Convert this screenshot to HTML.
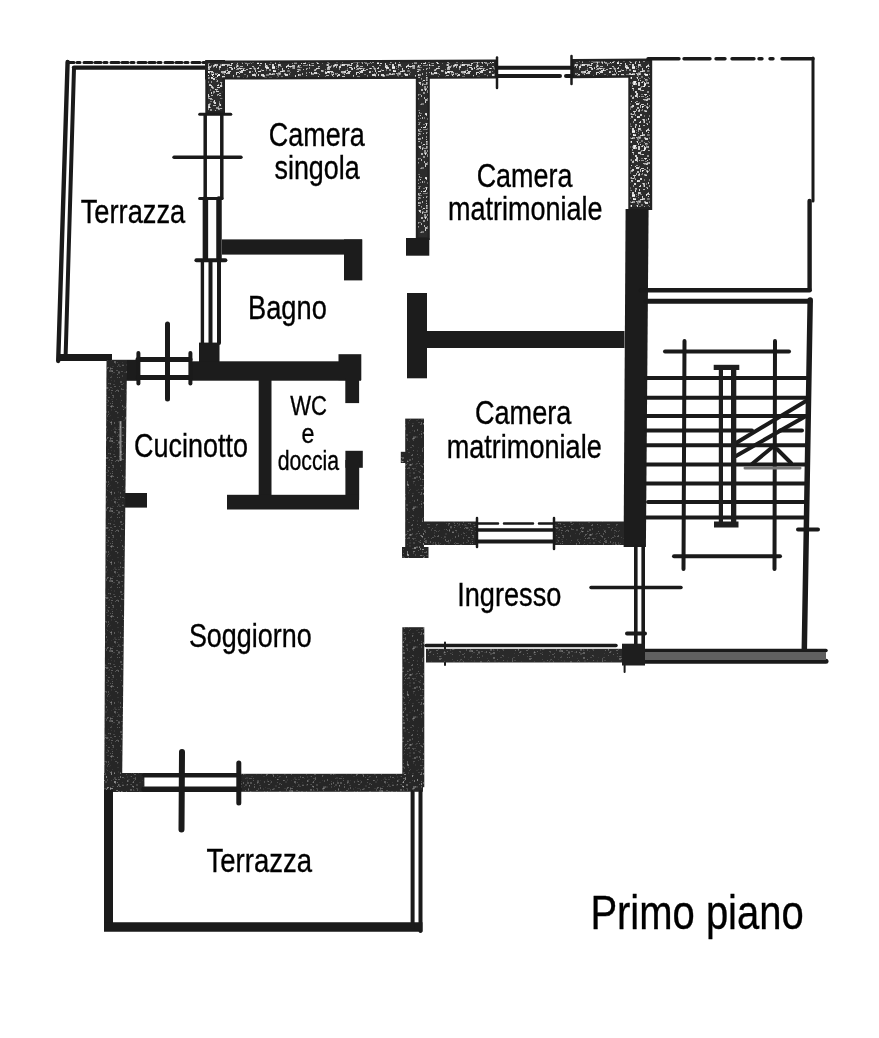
<!DOCTYPE html>
<html><head><meta charset="utf-8"><title>Primo piano</title>
<style>
html,body{margin:0;padding:0;background:#fff;}
body{width:879px;height:1038px;overflow:hidden;}
svg{display:block;filter:grayscale(100%);}
text{font-family:"Liberation Sans",sans-serif;fill:#000;stroke:#000;stroke-width:0.35px;}
</style></head><body>
<svg width="879" height="1038" viewBox="0 0 879 1038">
<rect width="879" height="1038" fill="#fff"/>
<defs><pattern id="speck" width="120" height="64" patternUnits="userSpaceOnUse"><g fill="#fff"><rect x="79" y="32" width="3" height="2" fill-opacity="0.35"/><rect x="107" y="59" width="1" height="1" fill-opacity="0.5"/><rect x="14" y="47" width="2" height="1" fill-opacity="0.8"/><rect x="69" y="13" width="2" height="1" fill-opacity="0.35"/><rect x="93" y="27" width="2" height="2" fill-opacity="0.5"/><rect x="117" y="49" width="1" height="1" fill-opacity="0.5"/><rect x="79" y="56" width="1" height="1" fill-opacity="0.35"/><rect x="111" y="0" width="1" height="1" fill-opacity="0.5"/><rect x="111" y="21" width="1" height="2" fill-opacity="0.5"/><rect x="69" y="26" width="1" height="1" fill-opacity="0.8"/><rect x="38" y="2" width="1" height="2" fill-opacity="0.5"/><rect x="119" y="18" width="1" height="1" fill-opacity="0.65"/><rect x="38" y="0" width="2" height="2" fill-opacity="0.35"/><rect x="39" y="45" width="1" height="2" fill-opacity="0.65"/><rect x="23" y="61" width="2" height="1" fill-opacity="0.35"/><rect x="32" y="2" width="3" height="2" fill-opacity="0.8"/><rect x="2" y="53" width="1" height="2" fill-opacity="0.35"/><rect x="57" y="5" width="3" height="1" fill-opacity="0.5"/><rect x="15" y="31" width="2" height="2" fill-opacity="0.65"/><rect x="114" y="32" width="2" height="1" fill-opacity="0.65"/><rect x="110" y="37" width="1" height="2" fill-opacity="0.35"/><rect x="26" y="43" width="2" height="2" fill-opacity="0.5"/><rect x="43" y="35" width="3" height="1" fill-opacity="0.65"/><rect x="87" y="40" width="1" height="1" fill-opacity="0.35"/><rect x="80" y="19" width="3" height="2" fill-opacity="0.8"/><rect x="20" y="6" width="1" height="2" fill-opacity="0.35"/><rect x="30" y="44" width="1" height="2" fill-opacity="0.8"/><rect x="18" y="7" width="3" height="1" fill-opacity="0.8"/><rect x="42" y="26" width="1" height="1" fill-opacity="0.8"/><rect x="13" y="21" width="2" height="2" fill-opacity="0.5"/><rect x="7" y="53" width="1" height="1" fill-opacity="0.8"/><rect x="118" y="21" width="2" height="2" fill-opacity="0.8"/><rect x="88" y="40" width="2" height="2" fill-opacity="0.65"/><rect x="60" y="51" width="1" height="1" fill-opacity="0.8"/><rect x="105" y="22" width="3" height="2" fill-opacity="0.65"/><rect x="23" y="11" width="2" height="2" fill-opacity="0.65"/><rect x="8" y="45" width="3" height="1" fill-opacity="0.65"/><rect x="46" y="35" width="2" height="2" fill-opacity="0.65"/><rect x="43" y="22" width="2" height="1" fill-opacity="0.8"/><rect x="70" y="32" width="1" height="2" fill-opacity="0.8"/><rect x="36" y="45" width="1" height="2" fill-opacity="0.65"/><rect x="94" y="52" width="1" height="1" fill-opacity="0.8"/><rect x="46" y="42" width="2" height="1" fill-opacity="0.5"/><rect x="25" y="46" width="2" height="2" fill-opacity="0.35"/><rect x="92" y="53" width="1" height="2" fill-opacity="0.65"/><rect x="79" y="34" width="3" height="1" fill-opacity="0.5"/><rect x="20" y="56" width="2" height="1" fill-opacity="0.5"/><rect x="97" y="23" width="3" height="1" fill-opacity="0.8"/><rect x="28" y="21" width="1" height="1" fill-opacity="0.35"/><rect x="40" y="23" width="2" height="1" fill-opacity="0.35"/><rect x="53" y="59" width="1" height="2" fill-opacity="0.35"/><rect x="75" y="26" width="1" height="2" fill-opacity="0.35"/><rect x="44" y="51" width="1" height="2" fill-opacity="0.35"/><rect x="88" y="47" width="1" height="2" fill-opacity="0.35"/><rect x="37" y="43" width="2" height="2" fill-opacity="0.65"/><rect x="104" y="16" width="2" height="2" fill-opacity="0.65"/><rect x="59" y="18" width="1" height="2" fill-opacity="0.8"/><rect x="25" y="17" width="2" height="1" fill-opacity="0.65"/><rect x="105" y="0" width="2" height="1" fill-opacity="0.65"/><rect x="72" y="18" width="1" height="2" fill-opacity="0.8"/><rect x="55" y="28" width="2" height="2" fill-opacity="0.8"/><rect x="90" y="48" width="2" height="1" fill-opacity="0.65"/><rect x="94" y="38" width="2" height="2" fill-opacity="0.8"/><rect x="2" y="40" width="1" height="2" fill-opacity="0.65"/><rect x="18" y="61" width="1" height="1" fill-opacity="0.8"/><rect x="31" y="37" width="1" height="1" fill-opacity="0.8"/><rect x="1" y="61" width="2" height="2" fill-opacity="0.5"/><rect x="119" y="60" width="1" height="1" fill-opacity="0.8"/><rect x="34" y="19" width="3" height="2" fill-opacity="0.65"/><rect x="63" y="60" width="2" height="1" fill-opacity="0.35"/><rect x="97" y="16" width="1" height="2" fill-opacity="0.65"/><rect x="78" y="37" width="3" height="1" fill-opacity="0.8"/><rect x="44" y="46" width="3" height="1" fill-opacity="0.35"/><rect x="0" y="32" width="2" height="2" fill-opacity="0.35"/><rect x="113" y="24" width="1" height="2" fill-opacity="0.8"/><rect x="76" y="61" width="2" height="2" fill-opacity="0.8"/><rect x="87" y="25" width="1" height="2" fill-opacity="0.35"/><rect x="38" y="0" width="3" height="2" fill-opacity="0.65"/><rect x="82" y="60" width="1" height="1" fill-opacity="0.5"/><rect x="61" y="63" width="1" height="1" fill-opacity="0.8"/><rect x="74" y="6" width="1" height="1" fill-opacity="0.65"/><rect x="104" y="10" width="1" height="1" fill-opacity="0.65"/><rect x="92" y="54" width="1" height="2" fill-opacity="0.8"/><rect x="6" y="15" width="1" height="1" fill-opacity="0.35"/><rect x="91" y="17" width="1" height="2" fill-opacity="0.5"/><rect x="23" y="23" width="2" height="1" fill-opacity="0.35"/><rect x="79" y="27" width="1" height="1" fill-opacity="0.8"/><rect x="95" y="9" width="1" height="1" fill-opacity="0.35"/><rect x="95" y="51" width="2" height="1" fill-opacity="0.35"/><rect x="55" y="11" width="1" height="2" fill-opacity="0.8"/><rect x="45" y="47" width="1" height="1" fill-opacity="0.65"/><rect x="19" y="37" width="2" height="1" fill-opacity="0.65"/><rect x="8" y="30" width="1" height="2" fill-opacity="0.5"/><rect x="103" y="30" width="1" height="2" fill-opacity="0.8"/><rect x="22" y="16" width="3" height="1" fill-opacity="0.65"/><rect x="10" y="4" width="1" height="1" fill-opacity="0.8"/><rect x="30" y="49" width="2" height="2" fill-opacity="0.65"/><rect x="13" y="3" width="2" height="2" fill-opacity="0.35"/><rect x="108" y="19" width="2" height="1" fill-opacity="0.35"/><rect x="10" y="62" width="1" height="1" fill-opacity="0.8"/><rect x="45" y="30" width="1" height="2" fill-opacity="0.65"/><rect x="101" y="49" width="2" height="1" fill-opacity="0.65"/><rect x="82" y="37" width="3" height="2" fill-opacity="0.65"/><rect x="66" y="4" width="2" height="1" fill-opacity="0.5"/><rect x="50" y="8" width="1" height="1" fill-opacity="0.35"/><rect x="23" y="25" width="1" height="1" fill-opacity="0.8"/><rect x="113" y="61" width="3" height="2" fill-opacity="0.35"/><rect x="54" y="60" width="1" height="2" fill-opacity="0.65"/><rect x="59" y="59" width="1" height="1" fill-opacity="0.5"/><rect x="83" y="20" width="1" height="2" fill-opacity="0.8"/><rect x="111" y="60" width="1" height="2" fill-opacity="0.35"/><rect x="4" y="61" width="1" height="2" fill-opacity="0.65"/><rect x="40" y="7" width="3" height="1" fill-opacity="0.8"/><rect x="60" y="19" width="1" height="2" fill-opacity="0.65"/><rect x="58" y="30" width="3" height="1" fill-opacity="0.35"/><rect x="25" y="3" width="2" height="1" fill-opacity="0.35"/><rect x="79" y="51" width="3" height="2" fill-opacity="0.65"/><rect x="23" y="59" width="1" height="2" fill-opacity="0.35"/><rect x="93" y="59" width="1" height="1" fill-opacity="0.5"/><rect x="86" y="26" width="1" height="2" fill-opacity="0.65"/><rect x="0" y="59" width="1" height="2" fill-opacity="0.8"/><rect x="21" y="5" width="1" height="2" fill-opacity="0.35"/><rect x="91" y="9" width="1" height="2" fill-opacity="0.35"/><rect x="82" y="6" width="2" height="2" fill-opacity="0.35"/><rect x="6" y="32" width="2" height="2" fill-opacity="0.65"/><rect x="81" y="6" width="1" height="1" fill-opacity="0.5"/><rect x="89" y="51" width="1" height="1" fill-opacity="0.35"/><rect x="118" y="40" width="1" height="1" fill-opacity="0.5"/><rect x="76" y="9" width="3" height="1" fill-opacity="0.35"/><rect x="56" y="45" width="2" height="2" fill-opacity="0.8"/><rect x="66" y="16" width="3" height="1" fill-opacity="0.65"/><rect x="88" y="57" width="1" height="1" fill-opacity="0.5"/><rect x="39" y="61" width="1" height="2" fill-opacity="0.8"/><rect x="40" y="16" width="1" height="1" fill-opacity="0.8"/><rect x="31" y="10" width="2" height="1" fill-opacity="0.65"/><rect x="7" y="63" width="3" height="1" fill-opacity="0.35"/><rect x="90" y="25" width="1" height="2" fill-opacity="0.35"/><rect x="9" y="53" width="1" height="2" fill-opacity="0.35"/><rect x="114" y="36" width="3" height="1" fill-opacity="0.35"/><rect x="56" y="18" width="3" height="1" fill-opacity="0.35"/><rect x="89" y="54" width="1" height="1" fill-opacity="0.8"/><rect x="71" y="16" width="1" height="1" fill-opacity="0.65"/><rect x="21" y="17" width="1" height="2" fill-opacity="0.65"/><rect x="36" y="4" width="1" height="1" fill-opacity="0.35"/><rect x="15" y="6" width="1" height="2" fill-opacity="0.8"/><rect x="110" y="33" width="2" height="1" fill-opacity="0.5"/><rect x="67" y="54" width="1" height="2" fill-opacity="0.5"/><rect x="42" y="45" width="1" height="1" fill-opacity="0.5"/><rect x="93" y="12" width="1" height="1" fill-opacity="0.5"/><rect x="57" y="55" width="2" height="1" fill-opacity="0.65"/><rect x="40" y="57" width="1" height="2" fill-opacity="0.8"/><rect x="68" y="60" width="2" height="1" fill-opacity="0.35"/><rect x="16" y="53" width="3" height="1" fill-opacity="0.5"/><rect x="0" y="4" width="2" height="1" fill-opacity="0.8"/><rect x="90" y="45" width="2" height="2" fill-opacity="0.5"/><rect x="25" y="35" width="1" height="2" fill-opacity="0.65"/><rect x="97" y="30" width="1" height="2" fill-opacity="0.5"/><rect x="104" y="7" width="2" height="2" fill-opacity="0.8"/><rect x="44" y="18" width="1" height="1" fill-opacity="0.8"/><rect x="48" y="4" width="1" height="1" fill-opacity="0.8"/><rect x="12" y="36" width="1" height="2" fill-opacity="0.8"/><rect x="87" y="60" width="2" height="1" fill-opacity="0.5"/><rect x="48" y="1" width="1" height="1" fill-opacity="0.8"/><rect x="2" y="40" width="3" height="1" fill-opacity="0.65"/><rect x="65" y="49" width="2" height="2" fill-opacity="0.8"/><rect x="57" y="7" width="2" height="1" fill-opacity="0.8"/><rect x="46" y="2" width="3" height="1" fill-opacity="0.65"/><rect x="36" y="9" width="1" height="1" fill-opacity="0.65"/><rect x="78" y="52" width="1" height="1" fill-opacity="0.65"/><rect x="118" y="30" width="1" height="1" fill-opacity="0.35"/><rect x="85" y="38" width="1" height="1" fill-opacity="0.8"/><rect x="66" y="11" width="1" height="1" fill-opacity="0.65"/><rect x="100" y="54" width="2" height="1" fill-opacity="0.8"/><rect x="48" y="22" width="3" height="1" fill-opacity="0.65"/><rect x="49" y="41" width="1" height="2" fill-opacity="0.5"/><rect x="113" y="12" width="1" height="2" fill-opacity="0.65"/><rect x="102" y="34" width="2" height="1" fill-opacity="0.5"/><rect x="9" y="52" width="1" height="1" fill-opacity="0.35"/><rect x="72" y="52" width="2" height="1" fill-opacity="0.8"/><rect x="61" y="31" width="1" height="2" fill-opacity="0.65"/><rect x="10" y="42" width="1" height="2" fill-opacity="0.35"/><rect x="19" y="14" width="1" height="1" fill-opacity="0.8"/><rect x="24" y="41" width="2" height="1" fill-opacity="0.65"/><rect x="93" y="9" width="1" height="2" fill-opacity="0.5"/><rect x="106" y="9" width="1" height="1" fill-opacity="0.8"/><rect x="82" y="49" width="1" height="2" fill-opacity="0.35"/><rect x="0" y="24" width="3" height="1" fill-opacity="0.35"/><rect x="11" y="42" width="1" height="2" fill-opacity="0.35"/><rect x="73" y="56" width="3" height="2" fill-opacity="0.5"/><rect x="91" y="13" width="1" height="1" fill-opacity="0.35"/><rect x="25" y="26" width="1" height="2" fill-opacity="0.5"/><rect x="58" y="10" width="1" height="2" fill-opacity="0.8"/><rect x="48" y="0" width="1" height="2" fill-opacity="0.5"/><rect x="87" y="0" width="2" height="2" fill-opacity="0.65"/><rect x="95" y="9" width="2" height="2" fill-opacity="0.35"/><rect x="14" y="61" width="1" height="1" fill-opacity="0.65"/><rect x="48" y="18" width="1" height="2" fill-opacity="0.35"/><rect x="73" y="14" width="1" height="2" fill-opacity="0.65"/><rect x="108" y="8" width="2" height="2" fill-opacity="0.35"/><rect x="28" y="53" width="1" height="2" fill-opacity="0.35"/><rect x="18" y="34" width="1" height="2" fill-opacity="0.8"/><rect x="23" y="49" width="1" height="1" fill-opacity="0.8"/><rect x="45" y="16" width="1" height="1" fill-opacity="0.5"/><rect x="46" y="2" width="1" height="2" fill-opacity="0.8"/><rect x="49" y="10" width="1" height="1" fill-opacity="0.5"/><rect x="102" y="56" width="1" height="2" fill-opacity="0.35"/><rect x="35" y="60" width="2" height="1" fill-opacity="0.35"/><rect x="20" y="50" width="2" height="2" fill-opacity="0.35"/><rect x="27" y="3" width="2" height="2" fill-opacity="0.8"/><rect x="117" y="48" width="1" height="1" fill-opacity="0.65"/><rect x="18" y="38" width="1" height="2" fill-opacity="0.35"/><rect x="47" y="27" width="2" height="2" fill-opacity="0.5"/><rect x="34" y="17" width="2" height="2" fill-opacity="0.65"/><rect x="0" y="15" width="1" height="2" fill-opacity="0.35"/><rect x="9" y="48" width="1" height="2" fill-opacity="0.5"/><rect x="25" y="2" width="3" height="2" fill-opacity="0.65"/><rect x="76" y="58" width="1" height="2" fill-opacity="0.5"/><rect x="9" y="46" width="2" height="1" fill-opacity="0.35"/><rect x="23" y="54" width="1" height="2" fill-opacity="0.5"/><rect x="96" y="47" width="1" height="1" fill-opacity="0.5"/><rect x="37" y="11" width="1" height="1" fill-opacity="0.35"/><rect x="82" y="51" width="1" height="2" fill-opacity="0.65"/><rect x="116" y="61" width="2" height="2" fill-opacity="0.5"/><rect x="72" y="17" width="1" height="1" fill-opacity="0.35"/><rect x="93" y="49" width="1" height="1" fill-opacity="0.8"/><rect x="85" y="7" width="1" height="1" fill-opacity="0.5"/><rect x="53" y="29" width="2" height="1" fill-opacity="0.65"/><rect x="7" y="30" width="1" height="2" fill-opacity="0.65"/><rect x="99" y="2" width="2" height="2" fill-opacity="0.8"/><rect x="57" y="13" width="3" height="1" fill-opacity="0.65"/><rect x="72" y="35" width="3" height="2" fill-opacity="0.8"/><rect x="38" y="21" width="2" height="1" fill-opacity="0.8"/><rect x="7" y="27" width="2" height="2" fill-opacity="0.35"/><rect x="118" y="38" width="2" height="2" fill-opacity="0.8"/><rect x="17" y="58" width="1" height="1" fill-opacity="0.8"/><rect x="0" y="26" width="2" height="2" fill-opacity="0.35"/><rect x="7" y="11" width="1" height="2" fill-opacity="0.5"/><rect x="47" y="43" width="1" height="2" fill-opacity="0.8"/><rect x="100" y="18" width="3" height="1" fill-opacity="0.65"/><rect x="32" y="3" width="3" height="2" fill-opacity="0.8"/><rect x="21" y="31" width="3" height="2" fill-opacity="0.8"/><rect x="117" y="22" width="2" height="1" fill-opacity="0.35"/><rect x="115" y="45" width="2" height="1" fill-opacity="0.35"/><rect x="58" y="5" width="3" height="2" fill-opacity="0.35"/><rect x="3" y="52" width="1" height="2" fill-opacity="0.8"/><rect x="78" y="28" width="2" height="1" fill-opacity="0.35"/><rect x="92" y="11" width="1" height="1" fill-opacity="0.8"/><rect x="38" y="8" width="3" height="2" fill-opacity="0.35"/><rect x="51" y="39" width="1" height="2" fill-opacity="0.65"/><rect x="59" y="48" width="1" height="1" fill-opacity="0.65"/><rect x="40" y="26" width="2" height="1" fill-opacity="0.5"/><rect x="45" y="10" width="3" height="2" fill-opacity="0.8"/><rect x="79" y="50" width="1" height="1" fill-opacity="0.5"/><rect x="117" y="62" width="1" height="2" fill-opacity="0.65"/><rect x="116" y="2" width="1" height="2" fill-opacity="0.65"/><rect x="72" y="63" width="2" height="1" fill-opacity="0.5"/><rect x="84" y="21" width="2" height="2" fill-opacity="0.65"/><rect x="37" y="13" width="1" height="2" fill-opacity="0.8"/><rect x="45" y="33" width="2" height="1" fill-opacity="0.35"/><rect x="88" y="14" width="1" height="1" fill-opacity="0.35"/><rect x="111" y="36" width="2" height="1" fill-opacity="0.35"/><rect x="99" y="49" width="1" height="2" fill-opacity="0.65"/><rect x="12" y="52" width="1" height="1" fill-opacity="0.65"/><rect x="8" y="37" width="3" height="2" fill-opacity="0.8"/><rect x="111" y="52" width="1" height="1" fill-opacity="0.65"/><rect x="8" y="23" width="1" height="1" fill-opacity="0.8"/><rect x="13" y="59" width="2" height="1" fill-opacity="0.5"/><rect x="53" y="3" width="2" height="2" fill-opacity="0.35"/><rect x="87" y="41" width="1" height="1" fill-opacity="0.8"/><rect x="48" y="13" width="1" height="1" fill-opacity="0.35"/><rect x="78" y="12" width="1" height="2" fill-opacity="0.8"/><rect x="14" y="34" width="1" height="2" fill-opacity="0.8"/><rect x="5" y="26" width="2" height="1" fill-opacity="0.8"/><rect x="84" y="23" width="1" height="2" fill-opacity="0.35"/><rect x="17" y="39" width="1" height="2" fill-opacity="0.65"/><rect x="56" y="32" width="1" height="1" fill-opacity="0.65"/><rect x="58" y="60" width="2" height="1" fill-opacity="0.5"/><rect x="76" y="25" width="2" height="1" fill-opacity="0.8"/><rect x="29" y="17" width="1" height="1" fill-opacity="0.35"/><rect x="92" y="57" width="1" height="2" fill-opacity="0.5"/><rect x="102" y="61" width="1" height="2" fill-opacity="0.65"/><rect x="80" y="45" width="3" height="1" fill-opacity="0.35"/><rect x="26" y="3" width="1" height="2" fill-opacity="0.8"/><rect x="111" y="36" width="2" height="2" fill-opacity="0.35"/><rect x="37" y="53" width="1" height="1" fill-opacity="0.65"/><rect x="83" y="24" width="3" height="1" fill-opacity="0.35"/><rect x="62" y="20" width="1" height="2" fill-opacity="0.65"/><rect x="91" y="1" width="1" height="2" fill-opacity="0.35"/><rect x="68" y="61" width="2" height="2" fill-opacity="0.35"/><rect x="29" y="0" width="2" height="1" fill-opacity="0.5"/><rect x="21" y="21" width="2" height="1" fill-opacity="0.8"/><rect x="83" y="13" width="2" height="2" fill-opacity="0.5"/><rect x="82" y="35" width="1" height="1" fill-opacity="0.5"/><rect x="74" y="8" width="3" height="2" fill-opacity="0.8"/><rect x="74" y="39" width="1" height="1" fill-opacity="0.65"/><rect x="71" y="56" width="3" height="1" fill-opacity="0.65"/><rect x="67" y="0" width="1" height="2" fill-opacity="0.35"/><rect x="59" y="1" width="1" height="1" fill-opacity="0.35"/><rect x="22" y="58" width="2" height="2" fill-opacity="0.8"/><rect x="37" y="9" width="1" height="2" fill-opacity="0.5"/><rect x="2" y="56" width="2" height="1" fill-opacity="0.35"/><rect x="89" y="43" width="1" height="1" fill-opacity="0.65"/><rect x="113" y="11" width="1" height="1" fill-opacity="0.8"/><rect x="38" y="24" width="3" height="2" fill-opacity="0.8"/><rect x="21" y="14" width="2" height="1" fill-opacity="0.5"/><rect x="16" y="51" width="2" height="1" fill-opacity="0.8"/><rect x="3" y="35" width="2" height="1" fill-opacity="0.65"/><rect x="97" y="11" width="1" height="2" fill-opacity="0.8"/><rect x="105" y="56" width="3" height="1" fill-opacity="0.5"/><rect x="41" y="32" width="3" height="1" fill-opacity="0.5"/><rect x="105" y="20" width="1" height="1" fill-opacity="0.8"/><rect x="46" y="18" width="3" height="2" fill-opacity="0.5"/><rect x="0" y="19" width="3" height="2" fill-opacity="0.35"/><rect x="95" y="0" width="3" height="2" fill-opacity="0.65"/><rect x="92" y="10" width="2" height="1" fill-opacity="0.65"/><rect x="0" y="7" width="3" height="2" fill-opacity="0.8"/><rect x="33" y="57" width="1" height="2" fill-opacity="0.5"/><rect x="50" y="54" width="2" height="2" fill-opacity="0.35"/><rect x="29" y="61" width="1" height="1" fill-opacity="0.35"/><rect x="99" y="61" width="1" height="1" fill-opacity="0.65"/><rect x="12" y="10" width="3" height="2" fill-opacity="0.8"/><rect x="22" y="41" width="1" height="1" fill-opacity="0.65"/><rect x="80" y="15" width="2" height="1" fill-opacity="0.35"/><rect x="5" y="62" width="2" height="2" fill-opacity="0.5"/><rect x="56" y="38" width="1" height="2" fill-opacity="0.65"/><rect x="78" y="57" width="2" height="1" fill-opacity="0.5"/><rect x="112" y="37" width="1" height="2" fill-opacity="0.35"/><rect x="119" y="48" width="1" height="2" fill-opacity="0.35"/><rect x="20" y="44" width="3" height="2" fill-opacity="0.35"/><rect x="43" y="26" width="1" height="1" fill-opacity="0.8"/><rect x="41" y="12" width="2" height="2" fill-opacity="0.35"/><rect x="87" y="57" width="3" height="1" fill-opacity="0.5"/><rect x="113" y="36" width="1" height="2" fill-opacity="0.8"/><rect x="105" y="44" width="2" height="1" fill-opacity="0.8"/><rect x="52" y="25" width="2" height="2" fill-opacity="0.8"/><rect x="15" y="16" width="1" height="2" fill-opacity="0.65"/><rect x="112" y="4" width="1" height="2" fill-opacity="0.8"/><rect x="77" y="13" width="1" height="1" fill-opacity="0.8"/><rect x="75" y="6" width="1" height="1" fill-opacity="0.65"/><rect x="80" y="37" width="1" height="2" fill-opacity="0.5"/><rect x="4" y="55" width="2" height="2" fill-opacity="0.5"/><rect x="88" y="42" width="2" height="2" fill-opacity="0.8"/><rect x="79" y="59" width="1" height="1" fill-opacity="0.65"/><rect x="60" y="40" width="2" height="1" fill-opacity="0.35"/><rect x="56" y="34" width="1" height="2" fill-opacity="0.35"/><rect x="49" y="51" width="2" height="2" fill-opacity="0.5"/><rect x="18" y="58" width="1" height="2" fill-opacity="0.5"/><rect x="22" y="52" width="1" height="2" fill-opacity="0.65"/><rect x="32" y="24" width="2" height="1" fill-opacity="0.8"/><rect x="116" y="58" width="1" height="2" fill-opacity="0.8"/><rect x="4" y="24" width="1" height="2" fill-opacity="0.5"/><rect x="88" y="63" width="2" height="1" fill-opacity="0.35"/><rect x="99" y="39" width="1" height="2" fill-opacity="0.65"/><rect x="78" y="44" width="1" height="1" fill-opacity="0.35"/><rect x="25" y="63" width="1" height="1" fill-opacity="0.8"/><rect x="67" y="26" width="1" height="1" fill-opacity="0.65"/><rect x="100" y="40" width="1" height="2" fill-opacity="0.8"/><rect x="2" y="4" width="3" height="1" fill-opacity="0.5"/><rect x="13" y="39" width="1" height="1" fill-opacity="0.35"/><rect x="81" y="14" width="3" height="2" fill-opacity="0.65"/><rect x="32" y="52" width="1" height="2" fill-opacity="0.65"/><rect x="8" y="50" width="1" height="1" fill-opacity="0.8"/><rect x="107" y="1" width="1" height="2" fill-opacity="0.5"/><rect x="108" y="7" width="3" height="1" fill-opacity="0.8"/><rect x="85" y="12" width="1" height="2" fill-opacity="0.35"/><rect x="88" y="33" width="1" height="2" fill-opacity="0.5"/><rect x="15" y="10" width="1" height="2" fill-opacity="0.65"/><rect x="30" y="62" width="1" height="1" fill-opacity="0.65"/><rect x="66" y="50" width="1" height="2" fill-opacity="0.65"/><rect x="81" y="27" width="2" height="2" fill-opacity="0.8"/><rect x="19" y="1" width="2" height="1" fill-opacity="0.5"/><rect x="116" y="0" width="2" height="2" fill-opacity="0.35"/><rect x="29" y="30" width="1" height="2" fill-opacity="0.5"/><rect x="36" y="17" width="1" height="1" fill-opacity="0.35"/><rect x="77" y="62" width="1" height="2" fill-opacity="0.65"/><rect x="88" y="32" width="1" height="1" fill-opacity="0.8"/><rect x="102" y="12" width="3" height="2" fill-opacity="0.8"/><rect x="66" y="1" width="1" height="1" fill-opacity="0.5"/><rect x="77" y="20" width="3" height="2" fill-opacity="0.8"/><rect x="35" y="60" width="2" height="2" fill-opacity="0.5"/><rect x="24" y="57" width="2" height="1" fill-opacity="0.35"/><rect x="78" y="2" width="2" height="1" fill-opacity="0.65"/><rect x="69" y="3" width="1" height="2" fill-opacity="0.5"/><rect x="35" y="51" width="1" height="1" fill-opacity="0.65"/><rect x="39" y="14" width="2" height="1" fill-opacity="0.35"/><rect x="77" y="29" width="1" height="2" fill-opacity="0.8"/><rect x="103" y="32" width="1" height="2" fill-opacity="0.8"/><rect x="62" y="19" width="2" height="2" fill-opacity="0.35"/><rect x="98" y="50" width="2" height="1" fill-opacity="0.5"/><rect x="64" y="33" width="1" height="1" fill-opacity="0.65"/><rect x="55" y="20" width="2" height="1" fill-opacity="0.35"/><rect x="36" y="29" width="2" height="2" fill-opacity="0.8"/><rect x="67" y="22" width="2" height="2" fill-opacity="0.8"/><rect x="56" y="30" width="1" height="2" fill-opacity="0.5"/><rect x="18" y="10" width="1" height="2" fill-opacity="0.8"/><rect x="69" y="1" width="3" height="1" fill-opacity="0.35"/><rect x="62" y="17" width="1" height="1" fill-opacity="0.35"/><rect x="107" y="54" width="2" height="1" fill-opacity="0.35"/><rect x="96" y="2" width="1" height="2" fill-opacity="0.65"/><rect x="91" y="28" width="1" height="2" fill-opacity="0.8"/><rect x="108" y="41" width="1" height="2" fill-opacity="0.35"/><rect x="63" y="5" width="1" height="1" fill-opacity="0.65"/><rect x="35" y="38" width="1" height="1" fill-opacity="0.8"/><rect x="85" y="8" width="2" height="2" fill-opacity="0.8"/><rect x="29" y="42" width="2" height="2" fill-opacity="0.5"/><rect x="46" y="55" width="1" height="2" fill-opacity="0.35"/><rect x="101" y="19" width="1" height="2" fill-opacity="0.65"/><rect x="98" y="30" width="1" height="1" fill-opacity="0.65"/><rect x="13" y="61" width="1" height="1" fill-opacity="0.65"/><rect x="5" y="18" width="3" height="1" fill-opacity="0.35"/><rect x="40" y="41" width="1" height="1" fill-opacity="0.8"/><rect x="114" y="54" width="2" height="1" fill-opacity="0.35"/><rect x="33" y="50" width="3" height="1" fill-opacity="0.35"/><rect x="0" y="40" width="1" height="2" fill-opacity="0.5"/><rect x="116" y="19" width="1" height="2" fill-opacity="0.65"/><rect x="10" y="55" width="2" height="1" fill-opacity="0.8"/><rect x="61" y="39" width="3" height="2" fill-opacity="0.35"/><rect x="39" y="9" width="1" height="2" fill-opacity="0.35"/><rect x="13" y="30" width="3" height="2" fill-opacity="0.5"/><rect x="86" y="60" width="2" height="2" fill-opacity="0.5"/><rect x="18" y="3" width="1" height="1" fill-opacity="0.8"/><rect x="52" y="1" width="3" height="2" fill-opacity="0.65"/><rect x="71" y="29" width="1" height="2" fill-opacity="0.65"/><rect x="26" y="29" width="2" height="2" fill-opacity="0.65"/><rect x="8" y="34" width="1" height="2" fill-opacity="0.8"/><rect x="5" y="59" width="1" height="1" fill-opacity="0.35"/><rect x="29" y="54" width="2" height="1" fill-opacity="0.5"/><rect x="44" y="30" width="3" height="1" fill-opacity="0.8"/><rect x="23" y="28" width="2" height="2" fill-opacity="0.5"/><rect x="56" y="20" width="1" height="2" fill-opacity="0.35"/><rect x="113" y="59" width="1" height="1" fill-opacity="0.8"/><rect x="41" y="46" width="2" height="1" fill-opacity="0.35"/><rect x="65" y="35" width="3" height="2" fill-opacity="0.65"/><rect x="87" y="4" width="3" height="2" fill-opacity="0.65"/><rect x="44" y="21" width="1" height="2" fill-opacity="0.8"/><rect x="47" y="34" width="2" height="2" fill-opacity="0.5"/><rect x="76" y="23" width="3" height="1" fill-opacity="0.65"/><rect x="116" y="54" width="2" height="2" fill-opacity="0.35"/><rect x="54" y="24" width="1" height="1" fill-opacity="0.8"/><rect x="14" y="4" width="2" height="2" fill-opacity="0.5"/><rect x="44" y="20" width="2" height="2" fill-opacity="0.65"/><rect x="107" y="39" width="2" height="2" fill-opacity="0.5"/><rect x="29" y="5" width="2" height="2" fill-opacity="0.5"/><rect x="11" y="63" width="1" height="1" fill-opacity="0.35"/><rect x="38" y="18" width="2" height="2" fill-opacity="0.8"/><rect x="97" y="21" width="2" height="1" fill-opacity="0.8"/><rect x="56" y="34" width="3" height="1" fill-opacity="0.5"/><rect x="13" y="53" width="1" height="1" fill-opacity="0.65"/><rect x="89" y="32" width="1" height="1" fill-opacity="0.65"/><rect x="55" y="14" width="3" height="1" fill-opacity="0.5"/><rect x="78" y="50" width="3" height="1" fill-opacity="0.5"/><rect x="94" y="58" width="1" height="2" fill-opacity="0.65"/><rect x="42" y="4" width="1" height="2" fill-opacity="0.8"/><rect x="76" y="52" width="3" height="1" fill-opacity="0.65"/><rect x="17" y="63" width="2" height="1" fill-opacity="0.8"/><rect x="76" y="47" width="1" height="2" fill-opacity="0.35"/><rect x="108" y="24" width="2" height="1" fill-opacity="0.8"/><rect x="16" y="8" width="1" height="2" fill-opacity="0.5"/><rect x="80" y="29" width="1" height="2" fill-opacity="0.35"/><rect x="16" y="57" width="1" height="1" fill-opacity="0.8"/><rect x="89" y="9" width="1" height="1" fill-opacity="0.35"/><rect x="75" y="26" width="2" height="1" fill-opacity="0.8"/><rect x="64" y="63" width="1" height="1" fill-opacity="0.5"/><rect x="17" y="62" width="2" height="2" fill-opacity="0.8"/><rect x="2" y="17" width="3" height="2" fill-opacity="0.65"/><rect x="17" y="4" width="2" height="1" fill-opacity="0.8"/><rect x="21" y="45" width="2" height="2" fill-opacity="0.8"/><rect x="62" y="53" width="1" height="2" fill-opacity="0.65"/><rect x="60" y="54" width="1" height="1" fill-opacity="0.35"/><rect x="24" y="57" width="1" height="2" fill-opacity="0.65"/><rect x="85" y="52" width="1" height="2" fill-opacity="0.65"/><rect x="49" y="9" width="1" height="1" fill-opacity="0.35"/><rect x="9" y="18" width="1" height="1" fill-opacity="0.8"/><rect x="55" y="44" width="2" height="1" fill-opacity="0.65"/><rect x="24" y="24" width="1" height="2" fill-opacity="0.65"/><rect x="4" y="52" width="2" height="2" fill-opacity="0.5"/><rect x="111" y="41" width="1" height="1" fill-opacity="0.35"/><rect x="25" y="56" width="3" height="1" fill-opacity="0.35"/><rect x="107" y="0" width="3" height="2" fill-opacity="0.65"/><rect x="63" y="63" width="2" height="1" fill-opacity="0.8"/><rect x="71" y="9" width="3" height="2" fill-opacity="0.5"/><rect x="74" y="5" width="2" height="1" fill-opacity="0.35"/><rect x="72" y="41" width="1" height="1" fill-opacity="0.8"/><rect x="110" y="1" width="2" height="1" fill-opacity="0.8"/><rect x="109" y="3" width="3" height="1" fill-opacity="0.8"/><rect x="44" y="14" width="1" height="1" fill-opacity="0.5"/><rect x="46" y="59" width="2" height="1" fill-opacity="0.5"/><rect x="24" y="22" width="1" height="1" fill-opacity="0.8"/><rect x="80" y="60" width="1" height="2" fill-opacity="0.8"/><rect x="26" y="1" width="1" height="1" fill-opacity="0.8"/><rect x="119" y="19" width="1" height="2" fill-opacity="0.65"/><rect x="22" y="43" width="2" height="1" fill-opacity="0.65"/><rect x="33" y="25" width="1" height="2" fill-opacity="0.5"/><rect x="97" y="55" width="3" height="1" fill-opacity="0.8"/><rect x="31" y="42" width="1" height="1" fill-opacity="0.65"/><rect x="32" y="18" width="1" height="2" fill-opacity="0.35"/><rect x="34" y="7" width="2" height="1" fill-opacity="0.8"/><rect x="99" y="29" width="2" height="1" fill-opacity="0.5"/><rect x="33" y="47" width="3" height="1" fill-opacity="0.8"/><rect x="3" y="5" width="1" height="2" fill-opacity="0.8"/><rect x="29" y="47" width="1" height="1" fill-opacity="0.8"/><rect x="93" y="41" width="3" height="1" fill-opacity="0.65"/><rect x="101" y="58" width="3" height="2" fill-opacity="0.8"/><rect x="98" y="10" width="2" height="2" fill-opacity="0.8"/><rect x="105" y="27" width="2" height="2" fill-opacity="0.35"/><rect x="116" y="9" width="1" height="2" fill-opacity="0.8"/><rect x="105" y="47" width="2" height="2" fill-opacity="0.5"/><rect x="12" y="32" width="1" height="2" fill-opacity="0.5"/><rect x="21" y="47" width="2" height="1" fill-opacity="0.5"/><rect x="117" y="33" width="3" height="2" fill-opacity="0.8"/><rect x="15" y="48" width="1" height="2" fill-opacity="0.8"/><rect x="55" y="31" width="3" height="1" fill-opacity="0.5"/><rect x="34" y="48" width="1" height="2" fill-opacity="0.65"/><rect x="53" y="49" width="2" height="1" fill-opacity="0.65"/><rect x="88" y="44" width="1" height="2" fill-opacity="0.5"/><rect x="85" y="50" width="1" height="2" fill-opacity="0.35"/><rect x="71" y="37" width="1" height="1" fill-opacity="0.8"/><rect x="65" y="25" width="1" height="2" fill-opacity="0.8"/><rect x="107" y="8" width="3" height="2" fill-opacity="0.65"/><rect x="20" y="30" width="3" height="2" fill-opacity="0.35"/><rect x="38" y="20" width="2" height="1" fill-opacity="0.8"/><rect x="98" y="44" width="2" height="2" fill-opacity="0.5"/><rect x="71" y="33" width="1" height="1" fill-opacity="0.5"/><rect x="118" y="18" width="2" height="1" fill-opacity="0.65"/><rect x="54" y="62" width="3" height="2" fill-opacity="0.5"/><rect x="22" y="52" width="2" height="1" fill-opacity="0.5"/><rect x="22" y="47" width="2" height="1" fill-opacity="0.35"/><rect x="99" y="37" width="1" height="2" fill-opacity="0.35"/><rect x="16" y="56" width="1" height="1" fill-opacity="0.35"/><rect x="91" y="58" width="1" height="1" fill-opacity="0.35"/><rect x="69" y="27" width="3" height="2" fill-opacity="0.5"/><rect x="80" y="45" width="2" height="2" fill-opacity="0.35"/><rect x="74" y="18" width="3" height="2" fill-opacity="0.35"/><rect x="10" y="33" width="2" height="2" fill-opacity="0.5"/><rect x="29" y="60" width="2" height="2" fill-opacity="0.35"/><rect x="50" y="59" width="1" height="2" fill-opacity="0.5"/><rect x="60" y="1" width="1" height="1" fill-opacity="0.65"/><rect x="44" y="9" width="2" height="2" fill-opacity="0.5"/><rect x="59" y="10" width="2" height="2" fill-opacity="0.5"/><rect x="42" y="55" width="2" height="1" fill-opacity="0.5"/><rect x="44" y="41" width="2" height="1" fill-opacity="0.5"/><rect x="62" y="9" width="1" height="2" fill-opacity="0.65"/><rect x="18" y="33" width="3" height="2" fill-opacity="0.65"/><rect x="46" y="47" width="1" height="1" fill-opacity="0.8"/><rect x="17" y="49" width="2" height="2" fill-opacity="0.5"/><rect x="1" y="42" width="1" height="1" fill-opacity="0.5"/><rect x="111" y="43" width="2" height="1" fill-opacity="0.65"/><rect x="112" y="50" width="1" height="1" fill-opacity="0.65"/><rect x="63" y="16" width="2" height="1" fill-opacity="0.8"/><rect x="86" y="15" width="1" height="2" fill-opacity="0.8"/><rect x="117" y="4" width="3" height="1" fill-opacity="0.65"/><rect x="105" y="43" width="1" height="2" fill-opacity="0.5"/><rect x="88" y="2" width="3" height="2" fill-opacity="0.65"/><rect x="107" y="19" width="2" height="2" fill-opacity="0.8"/><rect x="111" y="4" width="1" height="2" fill-opacity="0.65"/><rect x="113" y="56" width="1" height="1" fill-opacity="0.5"/><rect x="74" y="13" width="1" height="1" fill-opacity="0.35"/><rect x="43" y="55" width="2" height="2" fill-opacity="0.65"/><rect x="50" y="52" width="1" height="2" fill-opacity="0.35"/><rect x="21" y="25" width="2" height="2" fill-opacity="0.35"/><rect x="96" y="26" width="1" height="1" fill-opacity="0.5"/><rect x="33" y="17" width="3" height="2" fill-opacity="0.8"/><rect x="93" y="37" width="1" height="2" fill-opacity="0.5"/><rect x="16" y="37" width="1" height="2" fill-opacity="0.5"/><rect x="73" y="25" width="3" height="2" fill-opacity="0.5"/><rect x="30" y="62" width="2" height="1" fill-opacity="0.5"/><rect x="28" y="18" width="3" height="2" fill-opacity="0.5"/><rect x="114" y="41" width="2" height="2" fill-opacity="0.5"/><rect x="4" y="23" width="2" height="2" fill-opacity="0.8"/><rect x="78" y="34" width="2" height="2" fill-opacity="0.35"/><rect x="100" y="1" width="3" height="1" fill-opacity="0.5"/><rect x="25" y="24" width="2" height="2" fill-opacity="0.5"/><rect x="20" y="29" width="1" height="2" fill-opacity="0.5"/><rect x="51" y="59" width="1" height="2" fill-opacity="0.5"/><rect x="15" y="20" width="3" height="2" fill-opacity="0.8"/><rect x="20" y="53" width="3" height="1" fill-opacity="0.35"/><rect x="58" y="34" width="1" height="2" fill-opacity="0.35"/><rect x="97" y="9" width="1" height="1" fill-opacity="0.5"/><rect x="81" y="54" width="1" height="2" fill-opacity="0.8"/><rect x="99" y="59" width="1" height="1" fill-opacity="0.8"/><rect x="82" y="43" width="1" height="2" fill-opacity="0.65"/><rect x="89" y="39" width="2" height="2" fill-opacity="0.35"/><rect x="7" y="44" width="1" height="2" fill-opacity="0.35"/><rect x="14" y="18" width="2" height="2" fill-opacity="0.8"/><rect x="118" y="37" width="1" height="1" fill-opacity="0.35"/><rect x="55" y="24" width="1" height="1" fill-opacity="0.65"/><rect x="96" y="15" width="1" height="1" fill-opacity="0.35"/><rect x="88" y="7" width="1" height="2" fill-opacity="0.8"/><rect x="38" y="15" width="1" height="2" fill-opacity="0.65"/><rect x="7" y="0" width="1" height="2" fill-opacity="0.65"/><rect x="91" y="22" width="2" height="2" fill-opacity="0.65"/><rect x="45" y="15" width="2" height="1" fill-opacity="0.65"/><rect x="20" y="54" width="1" height="1" fill-opacity="0.8"/><rect x="32" y="41" width="2" height="2" fill-opacity="0.8"/><rect x="32" y="33" width="2" height="2" fill-opacity="0.65"/><rect x="64" y="24" width="3" height="2" fill-opacity="0.5"/><rect x="103" y="49" width="1" height="2" fill-opacity="0.35"/><rect x="38" y="46" width="2" height="2" fill-opacity="0.65"/><rect x="81" y="58" width="2" height="2" fill-opacity="0.65"/><rect x="68" y="54" width="2" height="2" fill-opacity="0.65"/><rect x="113" y="25" width="3" height="2" fill-opacity="0.8"/><rect x="47" y="1" width="1" height="1" fill-opacity="0.65"/><rect x="58" y="51" width="1" height="2" fill-opacity="0.5"/><rect x="14" y="19" width="1" height="2" fill-opacity="0.5"/><rect x="41" y="40" width="3" height="1" fill-opacity="0.8"/><rect x="116" y="51" width="1" height="1" fill-opacity="0.65"/><rect x="76" y="4" width="2" height="1" fill-opacity="0.8"/><rect x="110" y="53" width="1" height="1" fill-opacity="0.8"/><rect x="119" y="3" width="1" height="2" fill-opacity="0.35"/><rect x="95" y="47" width="3" height="2" fill-opacity="0.5"/><rect x="12" y="60" width="1" height="1" fill-opacity="0.8"/><rect x="81" y="6" width="2" height="2" fill-opacity="0.5"/><rect x="4" y="21" width="2" height="1" fill-opacity="0.8"/><rect x="56" y="15" width="1" height="1" fill-opacity="0.5"/><rect x="74" y="32" width="1" height="1" fill-opacity="0.5"/><rect x="48" y="54" width="1" height="2" fill-opacity="0.8"/><rect x="96" y="27" width="3" height="1" fill-opacity="0.8"/><rect x="87" y="7" width="3" height="2" fill-opacity="0.8"/><rect x="10" y="24" width="2" height="2" fill-opacity="0.8"/><rect x="33" y="32" width="1" height="2" fill-opacity="0.35"/><rect x="17" y="14" width="2" height="2" fill-opacity="0.35"/><rect x="19" y="14" width="2" height="1" fill-opacity="0.35"/><rect x="52" y="3" width="3" height="2" fill-opacity="0.35"/><rect x="43" y="57" width="1" height="2" fill-opacity="0.35"/><rect x="17" y="36" width="1" height="2" fill-opacity="0.65"/><rect x="12" y="47" width="1" height="2" fill-opacity="0.65"/><rect x="115" y="23" width="2" height="1" fill-opacity="0.8"/><rect x="89" y="21" width="3" height="1" fill-opacity="0.8"/><rect x="110" y="49" width="1" height="2" fill-opacity="0.65"/><rect x="9" y="4" width="3" height="1" fill-opacity="0.65"/><rect x="44" y="46" width="2" height="2" fill-opacity="0.35"/><rect x="16" y="24" width="1" height="2" fill-opacity="0.5"/><rect x="117" y="12" width="3" height="2" fill-opacity="0.5"/><rect x="8" y="43" width="1" height="1" fill-opacity="0.35"/><rect x="114" y="47" width="1" height="1" fill-opacity="0.5"/><rect x="100" y="21" width="3" height="2" fill-opacity="0.8"/><rect x="28" y="26" width="1" height="1" fill-opacity="0.8"/><rect x="32" y="9" width="3" height="2" fill-opacity="0.5"/><rect x="75" y="5" width="2" height="1" fill-opacity="0.5"/><rect x="91" y="8" width="3" height="1" fill-opacity="0.65"/><rect x="118" y="36" width="2" height="1" fill-opacity="0.8"/><rect x="88" y="30" width="1" height="2" fill-opacity="0.8"/><rect x="33" y="19" width="2" height="2" fill-opacity="0.8"/><rect x="89" y="43" width="2" height="1" fill-opacity="0.5"/><rect x="66" y="5" width="1" height="1" fill-opacity="0.65"/><rect x="66" y="8" width="1" height="2" fill-opacity="0.5"/><rect x="69" y="29" width="2" height="1" fill-opacity="0.8"/><rect x="114" y="4" width="1" height="1" fill-opacity="0.5"/><rect x="2" y="51" width="3" height="1" fill-opacity="0.8"/><rect x="69" y="42" width="2" height="1" fill-opacity="0.35"/><rect x="87" y="52" width="3" height="1" fill-opacity="0.65"/><rect x="64" y="20" width="3" height="1" fill-opacity="0.5"/><rect x="109" y="35" width="1" height="2" fill-opacity="0.65"/><rect x="112" y="60" width="1" height="2" fill-opacity="0.5"/><rect x="53" y="31" width="2" height="1" fill-opacity="0.5"/><rect x="47" y="15" width="1" height="2" fill-opacity="0.35"/><rect x="102" y="0" width="3" height="2" fill-opacity="0.8"/><rect x="42" y="18" width="1" height="1" fill-opacity="0.65"/><rect x="41" y="18" width="2" height="1" fill-opacity="0.65"/><rect x="72" y="14" width="2" height="1" fill-opacity="0.35"/><rect x="37" y="52" width="3" height="2" fill-opacity="0.8"/><rect x="55" y="17" width="2" height="1" fill-opacity="0.5"/><rect x="23" y="30" width="1" height="2" fill-opacity="0.65"/><rect x="107" y="6" width="1" height="1" fill-opacity="0.8"/><rect x="84" y="18" width="1" height="1" fill-opacity="0.5"/><rect x="13" y="40" width="1" height="1" fill-opacity="0.65"/><rect x="87" y="3" width="2" height="1" fill-opacity="0.65"/><rect x="27" y="1" width="1" height="1" fill-opacity="0.35"/><rect x="42" y="6" width="3" height="2" fill-opacity="0.65"/><rect x="79" y="23" width="2" height="2" fill-opacity="0.35"/><rect x="71" y="63" width="1" height="1" fill-opacity="0.35"/><rect x="118" y="22" width="2" height="2" fill-opacity="0.8"/><rect x="75" y="56" width="2" height="2" fill-opacity="0.65"/><rect x="92" y="23" width="2" height="2" fill-opacity="0.5"/><rect x="30" y="59" width="1" height="2" fill-opacity="0.65"/><rect x="1" y="6" width="2" height="1" fill-opacity="0.8"/><rect x="88" y="13" width="2" height="2" fill-opacity="0.35"/><rect x="59" y="49" width="3" height="1" fill-opacity="0.35"/><rect x="10" y="41" width="1" height="2" fill-opacity="0.35"/><rect x="11" y="57" width="3" height="1" fill-opacity="0.8"/><rect x="93" y="14" width="2" height="2" fill-opacity="0.8"/><rect x="70" y="43" width="1" height="1" fill-opacity="0.65"/><rect x="64" y="34" width="1" height="1" fill-opacity="0.65"/><rect x="1" y="39" width="2" height="2" fill-opacity="0.65"/><rect x="42" y="42" width="2" height="1" fill-opacity="0.8"/><rect x="40" y="2" width="2" height="1" fill-opacity="0.35"/><rect x="72" y="53" width="1" height="2" fill-opacity="0.35"/><rect x="17" y="15" width="1" height="2" fill-opacity="0.5"/><rect x="63" y="1" width="3" height="1" fill-opacity="0.35"/><rect x="71" y="35" width="3" height="1" fill-opacity="0.65"/><rect x="88" y="48" width="2" height="2" fill-opacity="0.35"/><rect x="70" y="33" width="3" height="1" fill-opacity="0.35"/><rect x="114" y="58" width="1" height="2" fill-opacity="0.5"/><rect x="1" y="59" width="1" height="2" fill-opacity="0.8"/><rect x="69" y="32" width="1" height="1" fill-opacity="0.5"/><rect x="13" y="14" width="2" height="2" fill-opacity="0.5"/><rect x="23" y="19" width="3" height="2" fill-opacity="0.8"/><rect x="4" y="58" width="3" height="2" fill-opacity="0.8"/><rect x="12" y="7" width="1" height="1" fill-opacity="0.35"/><rect x="115" y="56" width="1" height="2" fill-opacity="0.5"/><rect x="1" y="49" width="3" height="1" fill-opacity="0.5"/><rect x="117" y="44" width="3" height="2" fill-opacity="0.35"/><rect x="58" y="1" width="1" height="2" fill-opacity="0.8"/><rect x="76" y="60" width="2" height="2" fill-opacity="0.8"/><rect x="118" y="1" width="1" height="2" fill-opacity="0.35"/><rect x="47" y="39" width="1" height="2" fill-opacity="0.65"/><rect x="93" y="1" width="2" height="2" fill-opacity="0.65"/><rect x="2" y="33" width="3" height="1" fill-opacity="0.5"/><rect x="42" y="42" width="1" height="2" fill-opacity="0.8"/><rect x="71" y="8" width="1" height="2" fill-opacity="0.8"/><rect x="106" y="45" width="1" height="1" fill-opacity="0.35"/><rect x="37" y="33" width="1" height="1" fill-opacity="0.65"/><rect x="60" y="18" width="1" height="1" fill-opacity="0.8"/><rect x="103" y="47" width="1" height="2" fill-opacity="0.5"/><rect x="6" y="13" width="2" height="1" fill-opacity="0.5"/><rect x="78" y="44" width="3" height="2" fill-opacity="0.5"/><rect x="93" y="3" width="1" height="1" fill-opacity="0.35"/><rect x="53" y="19" width="2" height="2" fill-opacity="0.5"/><rect x="49" y="2" width="3" height="1" fill-opacity="0.8"/><rect x="99" y="4" width="1" height="2" fill-opacity="0.5"/><rect x="49" y="31" width="2" height="1" fill-opacity="0.65"/><rect x="100" y="44" width="3" height="1" fill-opacity="0.65"/><rect x="15" y="56" width="2" height="1" fill-opacity="0.35"/><rect x="77" y="50" width="1" height="1" fill-opacity="0.65"/><rect x="38" y="9" width="3" height="2" fill-opacity="0.35"/><rect x="103" y="34" width="2" height="2" fill-opacity="0.35"/><rect x="64" y="53" width="1" height="2" fill-opacity="0.35"/><rect x="100" y="0" width="3" height="1" fill-opacity="0.35"/><rect x="38" y="11" width="1" height="2" fill-opacity="0.35"/><rect x="104" y="55" width="1" height="1" fill-opacity="0.5"/><rect x="38" y="5" width="1" height="1" fill-opacity="0.35"/><rect x="5" y="20" width="2" height="1" fill-opacity="0.65"/><rect x="95" y="54" width="1" height="1" fill-opacity="0.65"/><rect x="35" y="27" width="2" height="2" fill-opacity="0.8"/><rect x="110" y="50" width="1" height="2" fill-opacity="0.35"/><rect x="52" y="18" width="1" height="1" fill-opacity="0.35"/><rect x="87" y="48" width="1" height="1" fill-opacity="0.65"/><rect x="75" y="50" width="1" height="2" fill-opacity="0.5"/><rect x="95" y="13" width="2" height="1" fill-opacity="0.35"/><rect x="55" y="15" width="1" height="2" fill-opacity="0.65"/><rect x="42" y="17" width="2" height="1" fill-opacity="0.5"/><rect x="32" y="50" width="2" height="1" fill-opacity="0.65"/><rect x="69" y="46" width="1" height="2" fill-opacity="0.5"/><rect x="77" y="42" width="2" height="2" fill-opacity="0.35"/><rect x="30" y="43" width="3" height="1" fill-opacity="0.5"/><rect x="16" y="48" width="3" height="1" fill-opacity="0.8"/><rect x="65" y="62" width="1" height="2" fill-opacity="0.8"/><rect x="64" y="22" width="2" height="2" fill-opacity="0.5"/><rect x="110" y="21" width="3" height="2" fill-opacity="0.65"/><rect x="12" y="2" width="2" height="1" fill-opacity="0.65"/><rect x="2" y="16" width="1" height="2" fill-opacity="0.8"/><rect x="99" y="56" width="3" height="1" fill-opacity="0.65"/><rect x="69" y="8" width="1" height="1" fill-opacity="0.65"/><rect x="116" y="51" width="2" height="1" fill-opacity="0.5"/><rect x="95" y="46" width="1" height="1" fill-opacity="0.65"/><rect x="96" y="17" width="1" height="1" fill-opacity="0.35"/><rect x="86" y="11" width="3" height="1" fill-opacity="0.65"/><rect x="69" y="41" width="3" height="1" fill-opacity="0.65"/><rect x="66" y="60" width="1" height="2" fill-opacity="0.8"/><rect x="0" y="2" width="3" height="1" fill-opacity="0.65"/><rect x="85" y="44" width="3" height="2" fill-opacity="0.8"/><rect x="51" y="14" width="3" height="1" fill-opacity="0.8"/><rect x="112" y="46" width="3" height="1" fill-opacity="0.5"/><rect x="17" y="33" width="1" height="1" fill-opacity="0.5"/><rect x="31" y="13" width="1" height="1" fill-opacity="0.8"/><rect x="12" y="20" width="1" height="1" fill-opacity="0.35"/><rect x="94" y="54" width="1" height="1" fill-opacity="0.35"/><rect x="0" y="4" width="1" height="2" fill-opacity="0.35"/><rect x="44" y="57" width="1" height="2" fill-opacity="0.8"/><rect x="108" y="22" width="1" height="1" fill-opacity="0.5"/><rect x="18" y="19" width="1" height="2" fill-opacity="0.8"/><rect x="26" y="10" width="3" height="2" fill-opacity="0.35"/><rect x="58" y="46" width="2" height="1" fill-opacity="0.35"/><rect x="33" y="6" width="1" height="2" fill-opacity="0.8"/><rect x="29" y="9" width="2" height="2" fill-opacity="0.65"/><rect x="25" y="1" width="1" height="2" fill-opacity="0.65"/><rect x="106" y="36" width="1" height="1" fill-opacity="0.5"/><rect x="68" y="40" width="1" height="2" fill-opacity="0.5"/><rect x="69" y="23" width="3" height="1" fill-opacity="0.35"/><rect x="41" y="22" width="3" height="1" fill-opacity="0.5"/><rect x="78" y="3" width="1" height="2" fill-opacity="0.35"/><rect x="14" y="22" width="3" height="1" fill-opacity="0.35"/><rect x="27" y="18" width="1" height="2" fill-opacity="0.8"/><rect x="108" y="49" width="2" height="1" fill-opacity="0.5"/><rect x="69" y="48" width="1" height="1" fill-opacity="0.65"/><rect x="10" y="15" width="1" height="2" fill-opacity="0.35"/><rect x="119" y="7" width="1" height="1" fill-opacity="0.5"/><rect x="29" y="13" width="3" height="2" fill-opacity="0.8"/><rect x="43" y="61" width="2" height="1" fill-opacity="0.65"/><rect x="119" y="17" width="1" height="2" fill-opacity="0.5"/><rect x="66" y="13" width="2" height="1" fill-opacity="0.8"/><rect x="88" y="17" width="1" height="2" fill-opacity="0.35"/><rect x="11" y="21" width="1" height="2" fill-opacity="0.5"/><rect x="44" y="36" width="3" height="1" fill-opacity="0.35"/><rect x="99" y="31" width="2" height="1" fill-opacity="0.65"/><rect x="55" y="56" width="2" height="1" fill-opacity="0.8"/><rect x="114" y="14" width="1" height="2" fill-opacity="0.35"/><rect x="89" y="34" width="3" height="1" fill-opacity="0.65"/><rect x="119" y="42" width="1" height="2" fill-opacity="0.35"/><rect x="9" y="8" width="1" height="1" fill-opacity="0.5"/><rect x="52" y="15" width="2" height="2" fill-opacity="0.65"/><rect x="6" y="29" width="2" height="1" fill-opacity="0.5"/><rect x="93" y="29" width="1" height="1" fill-opacity="0.35"/><rect x="82" y="57" width="1" height="1" fill-opacity="0.8"/><rect x="14" y="49" width="2" height="1" fill-opacity="0.65"/><rect x="72" y="47" width="1" height="2" fill-opacity="0.35"/><rect x="89" y="49" width="2" height="1" fill-opacity="0.65"/><rect x="85" y="48" width="1" height="1" fill-opacity="0.65"/><rect x="67" y="34" width="3" height="1" fill-opacity="0.65"/><rect x="36" y="37" width="2" height="1" fill-opacity="0.5"/><rect x="108" y="54" width="3" height="2" fill-opacity="0.35"/><rect x="12" y="25" width="2" height="2" fill-opacity="0.8"/><rect x="12" y="54" width="2" height="1" fill-opacity="0.65"/><rect x="112" y="52" width="2" height="1" fill-opacity="0.65"/><rect x="2" y="57" width="2" height="1" fill-opacity="0.8"/><rect x="3" y="21" width="3" height="2" fill-opacity="0.35"/><rect x="26" y="38" width="3" height="1" fill-opacity="0.35"/><rect x="13" y="37" width="2" height="2" fill-opacity="0.35"/><rect x="54" y="26" width="2" height="1" fill-opacity="0.5"/><rect x="69" y="0" width="1" height="2" fill-opacity="0.8"/><rect x="83" y="56" width="2" height="2" fill-opacity="0.8"/><rect x="4" y="16" width="3" height="1" fill-opacity="0.5"/><rect x="26" y="5" width="1" height="2" fill-opacity="0.35"/><rect x="107" y="4" width="1" height="2" fill-opacity="0.35"/><rect x="66" y="14" width="3" height="2" fill-opacity="0.5"/><rect x="34" y="55" width="2" height="2" fill-opacity="0.8"/><rect x="57" y="2" width="3" height="2" fill-opacity="0.35"/><rect x="22" y="17" width="3" height="1" fill-opacity="0.65"/><rect x="76" y="56" width="2" height="1" fill-opacity="0.35"/><rect x="90" y="35" width="3" height="1" fill-opacity="0.5"/><rect x="10" y="14" width="1" height="1" fill-opacity="0.35"/><rect x="116" y="22" width="2" height="1" fill-opacity="0.8"/><rect x="61" y="15" width="1" height="1" fill-opacity="0.35"/><rect x="108" y="23" width="2" height="2" fill-opacity="0.65"/><rect x="71" y="24" width="1" height="1" fill-opacity="0.65"/><rect x="40" y="42" width="1" height="2" fill-opacity="0.65"/><rect x="117" y="1" width="1" height="2" fill-opacity="0.8"/><rect x="49" y="57" width="3" height="2" fill-opacity="0.65"/><rect x="119" y="41" width="1" height="2" fill-opacity="0.8"/><rect x="47" y="32" width="1" height="1" fill-opacity="0.8"/><rect x="78" y="25" width="2" height="2" fill-opacity="0.8"/><rect x="84" y="33" width="3" height="1" fill-opacity="0.35"/><rect x="32" y="0" width="2" height="2" fill-opacity="0.8"/><rect x="117" y="27" width="2" height="2" fill-opacity="0.8"/><rect x="75" y="35" width="2" height="1" fill-opacity="0.35"/><rect x="100" y="34" width="3" height="1" fill-opacity="0.35"/><rect x="61" y="14" width="1" height="1" fill-opacity="0.5"/><rect x="56" y="59" width="1" height="1" fill-opacity="0.5"/><rect x="20" y="40" width="2" height="1" fill-opacity="0.65"/><rect x="51" y="28" width="1" height="1" fill-opacity="0.65"/><rect x="39" y="58" width="1" height="1" fill-opacity="0.8"/><rect x="18" y="40" width="1" height="2" fill-opacity="0.65"/><rect x="85" y="39" width="2" height="2" fill-opacity="0.35"/><rect x="55" y="34" width="3" height="2" fill-opacity="0.35"/><rect x="21" y="41" width="1" height="1" fill-opacity="0.35"/><rect x="114" y="3" width="1" height="2" fill-opacity="0.65"/><rect x="52" y="63" width="1" height="1" fill-opacity="0.5"/><rect x="9" y="56" width="1" height="1" fill-opacity="0.35"/><rect x="19" y="57" width="1" height="1" fill-opacity="0.5"/><rect x="46" y="43" width="3" height="1" fill-opacity="0.5"/><rect x="68" y="29" width="1" height="2" fill-opacity="0.8"/><rect x="65" y="37" width="1" height="2" fill-opacity="0.8"/><rect x="98" y="20" width="1" height="2" fill-opacity="0.5"/><rect x="115" y="56" width="2" height="1" fill-opacity="0.35"/><rect x="104" y="25" width="2" height="1" fill-opacity="0.35"/><rect x="66" y="59" width="1" height="2" fill-opacity="0.65"/><rect x="27" y="54" width="1" height="1" fill-opacity="0.5"/><rect x="79" y="10" width="1" height="1" fill-opacity="0.5"/><rect x="71" y="55" width="1" height="2" fill-opacity="0.35"/><rect x="90" y="37" width="2" height="1" fill-opacity="0.35"/><rect x="69" y="56" width="3" height="2" fill-opacity="0.8"/><rect x="28" y="42" width="1" height="2" fill-opacity="0.35"/><rect x="20" y="63" width="2" height="1" fill-opacity="0.8"/><rect x="119" y="9" width="1" height="1" fill-opacity="0.8"/><rect x="14" y="9" width="1" height="1" fill-opacity="0.35"/><rect x="103" y="53" width="2" height="2" fill-opacity="0.8"/><rect x="8" y="24" width="1" height="2" fill-opacity="0.65"/><rect x="94" y="0" width="2" height="2" fill-opacity="0.5"/><rect x="0" y="46" width="1" height="1" fill-opacity="0.8"/><rect x="102" y="54" width="2" height="2" fill-opacity="0.35"/><rect x="96" y="62" width="2" height="1" fill-opacity="0.35"/><rect x="96" y="43" width="3" height="2" fill-opacity="0.5"/><rect x="111" y="63" width="2" height="1" fill-opacity="0.8"/><rect x="59" y="3" width="3" height="1" fill-opacity="0.35"/><rect x="39" y="38" width="1" height="2" fill-opacity="0.35"/><rect x="103" y="7" width="1" height="2" fill-opacity="0.65"/><rect x="77" y="63" width="2" height="1" fill-opacity="0.65"/><rect x="91" y="57" width="3" height="2" fill-opacity="0.65"/><rect x="3" y="13" width="1" height="2" fill-opacity="0.5"/><rect x="18" y="37" width="2" height="1" fill-opacity="0.35"/><rect x="103" y="17" width="2" height="1" fill-opacity="0.35"/><rect x="35" y="31" width="2" height="2" fill-opacity="0.5"/><rect x="24" y="13" width="3" height="2" fill-opacity="0.8"/><rect x="57" y="30" width="2" height="2" fill-opacity="0.5"/><rect x="75" y="17" width="2" height="2" fill-opacity="0.65"/><rect x="77" y="53" width="3" height="1" fill-opacity="0.8"/><rect x="36" y="39" width="3" height="2" fill-opacity="0.8"/><rect x="87" y="62" width="2" height="1" fill-opacity="0.65"/><rect x="74" y="55" width="1" height="1" fill-opacity="0.8"/><rect x="9" y="52" width="3" height="1" fill-opacity="0.65"/><rect x="32" y="21" width="1" height="2" fill-opacity="0.5"/><rect x="31" y="53" width="1" height="1" fill-opacity="0.5"/><rect x="12" y="62" width="2" height="1" fill-opacity="0.8"/><rect x="107" y="32" width="1" height="2" fill-opacity="0.8"/><rect x="102" y="51" width="1" height="2" fill-opacity="0.65"/><rect x="78" y="4" width="2" height="1" fill-opacity="0.65"/><rect x="41" y="30" width="2" height="1" fill-opacity="0.35"/><rect x="3" y="25" width="1" height="2" fill-opacity="0.35"/><rect x="12" y="46" width="1" height="2" fill-opacity="0.5"/><rect x="26" y="37" width="2" height="1" fill-opacity="0.35"/><rect x="118" y="61" width="2" height="2" fill-opacity="0.35"/><rect x="5" y="45" width="2" height="1" fill-opacity="0.8"/><rect x="74" y="59" width="2" height="2" fill-opacity="0.8"/><rect x="19" y="38" width="1" height="1" fill-opacity="0.5"/><rect x="49" y="14" width="2" height="1" fill-opacity="0.5"/><rect x="40" y="50" width="2" height="2" fill-opacity="0.8"/><rect x="47" y="6" width="3" height="2" fill-opacity="0.35"/><rect x="9" y="7" width="2" height="2" fill-opacity="0.65"/><rect x="12" y="39" width="3" height="2" fill-opacity="0.65"/><rect x="55" y="18" width="1" height="2" fill-opacity="0.8"/><rect x="116" y="5" width="3" height="1" fill-opacity="0.5"/><rect x="86" y="17" width="1" height="1" fill-opacity="0.35"/><rect x="47" y="60" width="1" height="1" fill-opacity="0.8"/><rect x="22" y="6" width="2" height="1" fill-opacity="0.8"/><rect x="2" y="62" width="1" height="2" fill-opacity="0.65"/><rect x="44" y="19" width="2" height="2" fill-opacity="0.8"/><rect x="105" y="42" width="1" height="2" fill-opacity="0.8"/><rect x="116" y="8" width="3" height="1" fill-opacity="0.8"/><rect x="6" y="5" width="2" height="1" fill-opacity="0.65"/><rect x="36" y="2" width="1" height="1" fill-opacity="0.35"/><rect x="3" y="6" width="3" height="1" fill-opacity="0.65"/><rect x="89" y="20" width="2" height="1" fill-opacity="0.65"/><rect x="11" y="39" width="1" height="1" fill-opacity="0.5"/><rect x="105" y="31" width="1" height="2" fill-opacity="0.5"/><rect x="15" y="11" width="1" height="2" fill-opacity="0.5"/><rect x="85" y="5" width="1" height="1" fill-opacity="0.35"/><rect x="50" y="2" width="1" height="2" fill-opacity="0.35"/><rect x="55" y="38" width="3" height="2" fill-opacity="0.8"/><rect x="4" y="10" width="2" height="1" fill-opacity="0.35"/><rect x="106" y="16" width="2" height="2" fill-opacity="0.35"/><rect x="105" y="6" width="2" height="1" fill-opacity="0.35"/><rect x="52" y="17" width="2" height="2" fill-opacity="0.65"/><rect x="102" y="27" width="1" height="2" fill-opacity="0.35"/><rect x="7" y="30" width="3" height="1" fill-opacity="0.8"/><rect x="85" y="47" width="2" height="1" fill-opacity="0.5"/><rect x="56" y="22" width="1" height="1" fill-opacity="0.5"/><rect x="5" y="21" width="2" height="2" fill-opacity="0.8"/><rect x="55" y="16" width="2" height="2" fill-opacity="0.5"/><rect x="94" y="36" width="1" height="2" fill-opacity="0.8"/><rect x="98" y="42" width="1" height="1" fill-opacity="0.5"/><rect x="49" y="34" width="1" height="2" fill-opacity="0.8"/><rect x="109" y="60" width="1" height="2" fill-opacity="0.35"/><rect x="39" y="32" width="1" height="1" fill-opacity="0.65"/><rect x="17" y="25" width="3" height="2" fill-opacity="0.5"/><rect x="65" y="59" width="3" height="1" fill-opacity="0.5"/><rect x="95" y="25" width="1" height="1" fill-opacity="0.65"/><rect x="29" y="39" width="2" height="2" fill-opacity="0.5"/><rect x="36" y="13" width="2" height="1" fill-opacity="0.35"/><rect x="15" y="43" width="1" height="2" fill-opacity="0.65"/><rect x="67" y="27" width="2" height="2" fill-opacity="0.8"/><rect x="31" y="52" width="1" height="1" fill-opacity="0.8"/><rect x="81" y="13" width="2" height="2" fill-opacity="0.8"/><rect x="26" y="25" width="1" height="2" fill-opacity="0.5"/><rect x="63" y="28" width="2" height="2" fill-opacity="0.5"/><rect x="66" y="18" width="3" height="2" fill-opacity="0.65"/><rect x="68" y="44" width="1" height="2" fill-opacity="0.65"/><rect x="86" y="0" width="2" height="2" fill-opacity="0.35"/><rect x="1" y="44" width="3" height="2" fill-opacity="0.8"/><rect x="72" y="1" width="2" height="1" fill-opacity="0.65"/><rect x="55" y="59" width="1" height="1" fill-opacity="0.65"/><rect x="28" y="50" width="1" height="1" fill-opacity="0.65"/><rect x="15" y="58" width="1" height="2" fill-opacity="0.35"/><rect x="22" y="14" width="1" height="2" fill-opacity="0.8"/><rect x="21" y="10" width="3" height="2" fill-opacity="0.8"/><rect x="51" y="53" width="2" height="1" fill-opacity="0.8"/><rect x="107" y="59" width="2" height="1" fill-opacity="0.65"/><rect x="99" y="41" width="1" height="1" fill-opacity="0.5"/><rect x="95" y="25" width="3" height="1" fill-opacity="0.65"/><rect x="19" y="44" width="2" height="2" fill-opacity="0.5"/><rect x="87" y="58" width="2" height="1" fill-opacity="0.65"/><rect x="73" y="31" width="2" height="2" fill-opacity="0.35"/><rect x="2" y="46" width="2" height="2" fill-opacity="0.65"/><rect x="119" y="14" width="1" height="1" fill-opacity="0.65"/><rect x="91" y="31" width="2" height="1" fill-opacity="0.65"/><rect x="101" y="7" width="2" height="2" fill-opacity="0.65"/><rect x="74" y="20" width="1" height="1" fill-opacity="0.5"/><rect x="25" y="0" width="1" height="1" fill-opacity="0.8"/><rect x="67" y="20" width="3" height="1" fill-opacity="0.35"/><rect x="46" y="16" width="1" height="2" fill-opacity="0.35"/><rect x="90" y="7" width="3" height="1" fill-opacity="0.8"/><rect x="91" y="13" width="2" height="2" fill-opacity="0.8"/><rect x="85" y="41" width="2" height="1" fill-opacity="0.65"/><rect x="15" y="44" width="2" height="1" fill-opacity="0.65"/><rect x="61" y="25" width="2" height="2" fill-opacity="0.65"/><rect x="79" y="46" width="2" height="2" fill-opacity="0.5"/><rect x="81" y="33" width="2" height="2" fill-opacity="0.65"/><rect x="35" y="62" width="1" height="2" fill-opacity="0.8"/><rect x="107" y="45" width="2" height="1" fill-opacity="0.35"/><rect x="30" y="31" width="2" height="2" fill-opacity="0.5"/><rect x="58" y="58" width="3" height="1" fill-opacity="0.35"/><rect x="35" y="31" width="3" height="2" fill-opacity="0.65"/><rect x="51" y="38" width="1" height="2" fill-opacity="0.65"/><rect x="22" y="12" width="2" height="1" fill-opacity="0.35"/><rect x="73" y="29" width="1" height="2" fill-opacity="0.35"/><rect x="85" y="45" width="1" height="2" fill-opacity="0.65"/><rect x="33" y="6" width="3" height="2" fill-opacity="0.65"/><rect x="82" y="63" width="1" height="1" fill-opacity="0.35"/><rect x="102" y="9" width="3" height="1" fill-opacity="0.35"/></g></pattern><pattern id="speck2" width="90" height="70" patternUnits="userSpaceOnUse"><g fill="#fff"><rect x="37" y="10" width="1" height="2" fill-opacity="0.20"/><rect x="54" y="48" width="2" height="1" fill-opacity="0.14"/><rect x="24" y="34" width="1" height="1" fill-opacity="0.14"/><rect x="79" y="58" width="1" height="1" fill-opacity="0.08"/><rect x="63" y="53" width="1" height="2" fill-opacity="0.25"/><rect x="45" y="7" width="1" height="1" fill-opacity="0.20"/><rect x="84" y="22" width="2" height="1" fill-opacity="0.20"/><rect x="72" y="47" width="2" height="1" fill-opacity="0.20"/><rect x="73" y="10" width="1" height="1" fill-opacity="0.25"/><rect x="75" y="57" width="2" height="2" fill-opacity="0.14"/><rect x="23" y="22" width="2" height="1" fill-opacity="0.14"/><rect x="74" y="14" width="1" height="1" fill-opacity="0.25"/><rect x="4" y="35" width="2" height="1" fill-opacity="0.20"/><rect x="13" y="47" width="1" height="2" fill-opacity="0.20"/><rect x="58" y="27" width="1" height="1" fill-opacity="0.08"/><rect x="79" y="15" width="2" height="1" fill-opacity="0.14"/><rect x="42" y="69" width="1" height="1" fill-opacity="0.08"/><rect x="49" y="21" width="1" height="1" fill-opacity="0.08"/><rect x="80" y="53" width="1" height="1" fill-opacity="0.14"/><rect x="28" y="1" width="1" height="2" fill-opacity="0.08"/><rect x="68" y="56" width="2" height="1" fill-opacity="0.20"/><rect x="2" y="48" width="1" height="1" fill-opacity="0.08"/><rect x="9" y="33" width="1" height="2" fill-opacity="0.14"/><rect x="58" y="37" width="1" height="1" fill-opacity="0.08"/><rect x="71" y="67" width="2" height="1" fill-opacity="0.14"/><rect x="32" y="12" width="1" height="1" fill-opacity="0.08"/><rect x="56" y="43" width="2" height="1" fill-opacity="0.14"/><rect x="78" y="52" width="1" height="2" fill-opacity="0.14"/><rect x="69" y="37" width="1" height="1" fill-opacity="0.20"/><rect x="71" y="6" width="1" height="1" fill-opacity="0.08"/><rect x="80" y="17" width="1" height="2" fill-opacity="0.25"/><rect x="31" y="21" width="2" height="1" fill-opacity="0.20"/><rect x="71" y="69" width="1" height="1" fill-opacity="0.25"/><rect x="57" y="34" width="1" height="1" fill-opacity="0.25"/><rect x="3" y="18" width="2" height="1" fill-opacity="0.14"/><rect x="87" y="3" width="1" height="2" fill-opacity="0.25"/><rect x="54" y="10" width="1" height="2" fill-opacity="0.20"/><rect x="61" y="69" width="2" height="1" fill-opacity="0.14"/><rect x="67" y="68" width="1" height="1" fill-opacity="0.08"/><rect x="28" y="7" width="1" height="1" fill-opacity="0.08"/><rect x="86" y="58" width="2" height="1" fill-opacity="0.20"/><rect x="87" y="40" width="1" height="1" fill-opacity="0.20"/><rect x="35" y="43" width="1" height="1" fill-opacity="0.08"/><rect x="53" y="61" width="2" height="1" fill-opacity="0.20"/><rect x="88" y="11" width="1" height="1" fill-opacity="0.20"/><rect x="18" y="64" width="1" height="1" fill-opacity="0.25"/><rect x="15" y="35" width="2" height="1" fill-opacity="0.08"/><rect x="4" y="33" width="1" height="1" fill-opacity="0.25"/><rect x="5" y="52" width="1" height="1" fill-opacity="0.14"/><rect x="46" y="18" width="2" height="1" fill-opacity="0.14"/><rect x="65" y="50" width="2" height="2" fill-opacity="0.20"/><rect x="37" y="10" width="2" height="2" fill-opacity="0.14"/><rect x="5" y="15" width="2" height="1" fill-opacity="0.08"/><rect x="17" y="17" width="2" height="1" fill-opacity="0.25"/><rect x="37" y="6" width="1" height="2" fill-opacity="0.08"/><rect x="41" y="3" width="1" height="1" fill-opacity="0.08"/><rect x="20" y="27" width="1" height="1" fill-opacity="0.20"/><rect x="79" y="28" width="2" height="2" fill-opacity="0.25"/><rect x="84" y="46" width="2" height="2" fill-opacity="0.14"/><rect x="71" y="39" width="1" height="2" fill-opacity="0.14"/><rect x="45" y="48" width="1" height="1" fill-opacity="0.25"/><rect x="50" y="44" width="2" height="1" fill-opacity="0.14"/><rect x="26" y="40" width="1" height="1" fill-opacity="0.08"/><rect x="5" y="40" width="2" height="1" fill-opacity="0.25"/><rect x="20" y="53" width="1" height="1" fill-opacity="0.20"/><rect x="4" y="37" width="1" height="1" fill-opacity="0.25"/><rect x="47" y="63" width="1" height="2" fill-opacity="0.25"/><rect x="77" y="23" width="1" height="1" fill-opacity="0.25"/><rect x="8" y="58" width="1" height="1" fill-opacity="0.25"/><rect x="32" y="7" width="2" height="1" fill-opacity="0.25"/><rect x="49" y="44" width="2" height="2" fill-opacity="0.20"/><rect x="21" y="18" width="2" height="1" fill-opacity="0.25"/><rect x="69" y="15" width="1" height="1" fill-opacity="0.25"/><rect x="87" y="18" width="2" height="1" fill-opacity="0.08"/><rect x="79" y="2" width="2" height="2" fill-opacity="0.14"/><rect x="68" y="25" width="1" height="1" fill-opacity="0.20"/><rect x="36" y="55" width="1" height="2" fill-opacity="0.20"/><rect x="43" y="2" width="1" height="2" fill-opacity="0.14"/><rect x="8" y="17" width="2" height="1" fill-opacity="0.20"/><rect x="32" y="14" width="2" height="1" fill-opacity="0.08"/><rect x="4" y="61" width="2" height="1" fill-opacity="0.20"/><rect x="34" y="69" width="2" height="1" fill-opacity="0.08"/><rect x="25" y="9" width="2" height="1" fill-opacity="0.14"/><rect x="27" y="62" width="1" height="2" fill-opacity="0.14"/><rect x="33" y="0" width="2" height="1" fill-opacity="0.08"/><rect x="72" y="53" width="1" height="2" fill-opacity="0.08"/><rect x="17" y="18" width="1" height="1" fill-opacity="0.25"/><rect x="1" y="63" width="1" height="1" fill-opacity="0.20"/><rect x="36" y="4" width="1" height="1" fill-opacity="0.20"/><rect x="14" y="18" width="1" height="1" fill-opacity="0.08"/><rect x="78" y="54" width="2" height="1" fill-opacity="0.14"/><rect x="66" y="68" width="2" height="2" fill-opacity="0.14"/><rect x="8" y="34" width="2" height="2" fill-opacity="0.08"/><rect x="74" y="16" width="1" height="2" fill-opacity="0.25"/><rect x="45" y="8" width="1" height="2" fill-opacity="0.25"/><rect x="42" y="12" width="2" height="1" fill-opacity="0.14"/><rect x="47" y="54" width="1" height="1" fill-opacity="0.14"/><rect x="71" y="31" width="1" height="1" fill-opacity="0.08"/><rect x="16" y="19" width="1" height="2" fill-opacity="0.20"/><rect x="81" y="4" width="1" height="1" fill-opacity="0.08"/><rect x="20" y="33" width="1" height="2" fill-opacity="0.14"/><rect x="59" y="43" width="1" height="1" fill-opacity="0.25"/><rect x="61" y="13" width="1" height="2" fill-opacity="0.25"/><rect x="48" y="2" width="1" height="2" fill-opacity="0.08"/><rect x="3" y="4" width="1" height="2" fill-opacity="0.14"/><rect x="13" y="42" width="1" height="2" fill-opacity="0.14"/><rect x="52" y="38" width="1" height="2" fill-opacity="0.20"/><rect x="79" y="65" width="1" height="2" fill-opacity="0.14"/><rect x="76" y="34" width="1" height="2" fill-opacity="0.20"/><rect x="19" y="1" width="1" height="1" fill-opacity="0.08"/><rect x="62" y="61" width="1" height="2" fill-opacity="0.08"/><rect x="52" y="10" width="1" height="1" fill-opacity="0.08"/><rect x="2" y="29" width="1" height="1" fill-opacity="0.14"/><rect x="77" y="11" width="2" height="2" fill-opacity="0.20"/><rect x="32" y="25" width="1" height="2" fill-opacity="0.14"/><rect x="68" y="18" width="1" height="2" fill-opacity="0.20"/><rect x="52" y="43" width="1" height="2" fill-opacity="0.14"/><rect x="75" y="54" width="2" height="1" fill-opacity="0.25"/><rect x="40" y="14" width="1" height="1" fill-opacity="0.14"/><rect x="14" y="23" width="1" height="1" fill-opacity="0.20"/><rect x="16" y="45" width="1" height="1" fill-opacity="0.20"/><rect x="42" y="37" width="2" height="2" fill-opacity="0.25"/><rect x="79" y="26" width="2" height="1" fill-opacity="0.20"/><rect x="64" y="4" width="2" height="1" fill-opacity="0.08"/><rect x="58" y="69" width="1" height="1" fill-opacity="0.08"/><rect x="16" y="61" width="1" height="2" fill-opacity="0.20"/><rect x="81" y="56" width="1" height="2" fill-opacity="0.14"/><rect x="84" y="24" width="2" height="1" fill-opacity="0.20"/><rect x="73" y="24" width="1" height="1" fill-opacity="0.25"/><rect x="75" y="0" width="1" height="1" fill-opacity="0.25"/><rect x="66" y="61" width="1" height="2" fill-opacity="0.25"/><rect x="53" y="25" width="1" height="2" fill-opacity="0.14"/><rect x="49" y="0" width="1" height="1" fill-opacity="0.20"/><rect x="23" y="34" width="1" height="1" fill-opacity="0.14"/><rect x="0" y="37" width="2" height="1" fill-opacity="0.25"/><rect x="10" y="22" width="1" height="1" fill-opacity="0.14"/><rect x="5" y="69" width="1" height="1" fill-opacity="0.08"/><rect x="0" y="23" width="1" height="1" fill-opacity="0.08"/><rect x="65" y="52" width="2" height="1" fill-opacity="0.25"/><rect x="80" y="10" width="1" height="1" fill-opacity="0.08"/><rect x="17" y="0" width="1" height="1" fill-opacity="0.14"/><rect x="13" y="10" width="1" height="1" fill-opacity="0.08"/><rect x="88" y="56" width="2" height="1" fill-opacity="0.25"/><rect x="62" y="65" width="2" height="1" fill-opacity="0.08"/><rect x="70" y="21" width="1" height="1" fill-opacity="0.25"/><rect x="0" y="51" width="1" height="1" fill-opacity="0.08"/><rect x="42" y="66" width="2" height="2" fill-opacity="0.14"/><rect x="62" y="46" width="1" height="1" fill-opacity="0.20"/><rect x="89" y="40" width="1" height="2" fill-opacity="0.20"/><rect x="37" y="28" width="1" height="1" fill-opacity="0.08"/><rect x="7" y="9" width="1" height="1" fill-opacity="0.25"/><rect x="88" y="52" width="1" height="2" fill-opacity="0.08"/><rect x="65" y="20" width="1" height="1" fill-opacity="0.25"/><rect x="88" y="14" width="2" height="1" fill-opacity="0.25"/><rect x="72" y="6" width="1" height="1" fill-opacity="0.08"/><rect x="49" y="12" width="2" height="1" fill-opacity="0.08"/><rect x="43" y="22" width="2" height="2" fill-opacity="0.25"/><rect x="7" y="66" width="1" height="1" fill-opacity="0.14"/><rect x="43" y="19" width="1" height="2" fill-opacity="0.14"/><rect x="47" y="61" width="1" height="2" fill-opacity="0.25"/><rect x="3" y="5" width="1" height="2" fill-opacity="0.25"/><rect x="29" y="27" width="1" height="1" fill-opacity="0.25"/><rect x="3" y="61" width="1" height="1" fill-opacity="0.25"/><rect x="69" y="57" width="1" height="1" fill-opacity="0.25"/><rect x="44" y="53" width="1" height="1" fill-opacity="0.14"/><rect x="40" y="20" width="2" height="1" fill-opacity="0.20"/><rect x="24" y="2" width="1" height="2" fill-opacity="0.25"/><rect x="37" y="31" width="1" height="1" fill-opacity="0.14"/><rect x="76" y="4" width="1" height="1" fill-opacity="0.08"/><rect x="28" y="9" width="2" height="1" fill-opacity="0.14"/><rect x="48" y="67" width="1" height="1" fill-opacity="0.14"/><rect x="42" y="16" width="2" height="1" fill-opacity="0.25"/><rect x="19" y="39" width="1" height="1" fill-opacity="0.20"/><rect x="62" y="30" width="1" height="2" fill-opacity="0.25"/><rect x="68" y="34" width="2" height="1" fill-opacity="0.14"/><rect x="86" y="51" width="2" height="1" fill-opacity="0.25"/><rect x="39" y="22" width="1" height="1" fill-opacity="0.25"/><rect x="15" y="11" width="2" height="2" fill-opacity="0.08"/><rect x="0" y="38" width="2" height="1" fill-opacity="0.08"/><rect x="55" y="16" width="1" height="2" fill-opacity="0.20"/><rect x="49" y="39" width="2" height="2" fill-opacity="0.20"/><rect x="48" y="32" width="2" height="1" fill-opacity="0.14"/><rect x="88" y="50" width="1" height="2" fill-opacity="0.25"/><rect x="40" y="49" width="1" height="1" fill-opacity="0.08"/><rect x="52" y="18" width="2" height="1" fill-opacity="0.08"/><rect x="49" y="52" width="2" height="2" fill-opacity="0.08"/><rect x="20" y="2" width="1" height="1" fill-opacity="0.08"/><rect x="30" y="2" width="1" height="2" fill-opacity="0.20"/><rect x="46" y="14" width="2" height="2" fill-opacity="0.14"/><rect x="60" y="35" width="1" height="1" fill-opacity="0.14"/><rect x="53" y="62" width="1" height="2" fill-opacity="0.08"/><rect x="24" y="59" width="1" height="1" fill-opacity="0.08"/><rect x="10" y="29" width="1" height="2" fill-opacity="0.14"/><rect x="87" y="9" width="1" height="2" fill-opacity="0.08"/><rect x="14" y="34" width="2" height="2" fill-opacity="0.08"/><rect x="65" y="14" width="2" height="2" fill-opacity="0.14"/><rect x="74" y="45" width="1" height="1" fill-opacity="0.20"/><rect x="43" y="16" width="1" height="2" fill-opacity="0.20"/><rect x="75" y="1" width="1" height="1" fill-opacity="0.25"/><rect x="1" y="56" width="2" height="2" fill-opacity="0.14"/><rect x="20" y="2" width="2" height="1" fill-opacity="0.25"/><rect x="86" y="68" width="2" height="2" fill-opacity="0.14"/><rect x="64" y="51" width="1" height="1" fill-opacity="0.25"/><rect x="8" y="43" width="1" height="2" fill-opacity="0.08"/><rect x="83" y="6" width="2" height="1" fill-opacity="0.08"/><rect x="48" y="65" width="1" height="1" fill-opacity="0.14"/><rect x="18" y="29" width="1" height="1" fill-opacity="0.08"/><rect x="37" y="64" width="1" height="1" fill-opacity="0.25"/><rect x="7" y="12" width="1" height="1" fill-opacity="0.20"/><rect x="62" y="46" width="1" height="2" fill-opacity="0.14"/><rect x="44" y="4" width="2" height="1" fill-opacity="0.25"/><rect x="57" y="9" width="1" height="2" fill-opacity="0.25"/><rect x="52" y="5" width="1" height="2" fill-opacity="0.25"/><rect x="40" y="23" width="2" height="2" fill-opacity="0.14"/><rect x="38" y="60" width="1" height="1" fill-opacity="0.08"/><rect x="40" y="38" width="1" height="1" fill-opacity="0.25"/><rect x="45" y="44" width="1" height="2" fill-opacity="0.25"/><rect x="0" y="36" width="2" height="1" fill-opacity="0.20"/><rect x="9" y="6" width="2" height="1" fill-opacity="0.14"/><rect x="30" y="31" width="2" height="2" fill-opacity="0.20"/><rect x="51" y="35" width="2" height="1" fill-opacity="0.25"/><rect x="5" y="7" width="1" height="1" fill-opacity="0.14"/><rect x="42" y="39" width="1" height="1" fill-opacity="0.08"/><rect x="41" y="40" width="1" height="1" fill-opacity="0.14"/><rect x="50" y="44" width="2" height="2" fill-opacity="0.14"/><rect x="17" y="52" width="1" height="1" fill-opacity="0.08"/><rect x="16" y="52" width="1" height="1" fill-opacity="0.14"/><rect x="55" y="64" width="1" height="2" fill-opacity="0.08"/><rect x="42" y="41" width="2" height="1" fill-opacity="0.20"/><rect x="29" y="36" width="1" height="1" fill-opacity="0.20"/><rect x="6" y="64" width="1" height="1" fill-opacity="0.14"/><rect x="4" y="65" width="2" height="2" fill-opacity="0.25"/><rect x="15" y="18" width="2" height="1" fill-opacity="0.08"/><rect x="24" y="36" width="2" height="1" fill-opacity="0.25"/><rect x="47" y="64" width="2" height="2" fill-opacity="0.25"/><rect x="52" y="48" width="1" height="1" fill-opacity="0.20"/><rect x="44" y="50" width="1" height="1" fill-opacity="0.20"/><rect x="14" y="45" width="1" height="1" fill-opacity="0.08"/><rect x="40" y="19" width="2" height="1" fill-opacity="0.25"/><rect x="77" y="34" width="1" height="1" fill-opacity="0.20"/><rect x="76" y="20" width="2" height="1" fill-opacity="0.25"/><rect x="22" y="21" width="1" height="1" fill-opacity="0.14"/><rect x="21" y="40" width="2" height="1" fill-opacity="0.25"/><rect x="50" y="27" width="2" height="1" fill-opacity="0.14"/><rect x="5" y="16" width="2" height="1" fill-opacity="0.08"/><rect x="35" y="57" width="1" height="1" fill-opacity="0.25"/><rect x="59" y="56" width="1" height="2" fill-opacity="0.25"/><rect x="83" y="22" width="2" height="2" fill-opacity="0.08"/><rect x="21" y="30" width="1" height="1" fill-opacity="0.08"/><rect x="58" y="2" width="2" height="1" fill-opacity="0.14"/><rect x="7" y="36" width="1" height="1" fill-opacity="0.08"/><rect x="73" y="8" width="1" height="1" fill-opacity="0.20"/><rect x="26" y="20" width="2" height="1" fill-opacity="0.20"/><rect x="75" y="37" width="1" height="1" fill-opacity="0.08"/><rect x="20" y="37" width="2" height="1" fill-opacity="0.20"/><rect x="81" y="60" width="1" height="1" fill-opacity="0.14"/><rect x="14" y="43" width="1" height="1" fill-opacity="0.25"/><rect x="48" y="47" width="2" height="2" fill-opacity="0.20"/><rect x="40" y="42" width="1" height="1" fill-opacity="0.14"/><rect x="17" y="65" width="1" height="2" fill-opacity="0.14"/><rect x="44" y="10" width="1" height="1" fill-opacity="0.14"/><rect x="27" y="12" width="1" height="1" fill-opacity="0.14"/><rect x="68" y="53" width="1" height="1" fill-opacity="0.08"/><rect x="87" y="11" width="2" height="1" fill-opacity="0.14"/><rect x="0" y="49" width="1" height="1" fill-opacity="0.08"/><rect x="89" y="18" width="1" height="1" fill-opacity="0.08"/><rect x="69" y="22" width="2" height="1" fill-opacity="0.25"/><rect x="87" y="21" width="1" height="1" fill-opacity="0.25"/><rect x="7" y="9" width="2" height="1" fill-opacity="0.20"/><rect x="20" y="56" width="2" height="1" fill-opacity="0.25"/><rect x="31" y="50" width="1" height="1" fill-opacity="0.20"/><rect x="11" y="14" width="1" height="1" fill-opacity="0.25"/><rect x="21" y="20" width="2" height="2" fill-opacity="0.25"/><rect x="78" y="41" width="1" height="1" fill-opacity="0.14"/><rect x="67" y="10" width="1" height="2" fill-opacity="0.08"/><rect x="16" y="37" width="2" height="2" fill-opacity="0.25"/><rect x="78" y="18" width="1" height="2" fill-opacity="0.14"/><rect x="28" y="14" width="1" height="2" fill-opacity="0.08"/><rect x="13" y="1" width="1" height="1" fill-opacity="0.14"/><rect x="86" y="64" width="1" height="1" fill-opacity="0.14"/><rect x="2" y="42" width="2" height="1" fill-opacity="0.25"/><rect x="22" y="38" width="1" height="1" fill-opacity="0.08"/><rect x="19" y="21" width="2" height="1" fill-opacity="0.20"/><rect x="63" y="69" width="1" height="1" fill-opacity="0.08"/><rect x="43" y="27" width="2" height="2" fill-opacity="0.25"/><rect x="60" y="65" width="2" height="1" fill-opacity="0.20"/><rect x="18" y="61" width="1" height="2" fill-opacity="0.20"/><rect x="68" y="19" width="1" height="2" fill-opacity="0.20"/><rect x="0" y="50" width="1" height="1" fill-opacity="0.25"/><rect x="53" y="30" width="1" height="1" fill-opacity="0.25"/><rect x="0" y="12" width="1" height="2" fill-opacity="0.08"/><rect x="1" y="11" width="1" height="2" fill-opacity="0.20"/><rect x="21" y="59" width="1" height="2" fill-opacity="0.08"/><rect x="89" y="33" width="1" height="1" fill-opacity="0.08"/><rect x="9" y="31" width="1" height="1" fill-opacity="0.14"/><rect x="9" y="3" width="2" height="1" fill-opacity="0.25"/><rect x="2" y="64" width="1" height="1" fill-opacity="0.08"/><rect x="67" y="34" width="1" height="1" fill-opacity="0.20"/><rect x="9" y="66" width="1" height="1" fill-opacity="0.08"/><rect x="13" y="64" width="2" height="1" fill-opacity="0.25"/><rect x="77" y="46" width="1" height="1" fill-opacity="0.25"/><rect x="60" y="45" width="1" height="1" fill-opacity="0.14"/><rect x="27" y="62" width="2" height="1" fill-opacity="0.08"/><rect x="22" y="16" width="2" height="1" fill-opacity="0.08"/><rect x="27" y="16" width="1" height="1" fill-opacity="0.20"/><rect x="64" y="62" width="2" height="1" fill-opacity="0.25"/><rect x="69" y="55" width="2" height="1" fill-opacity="0.20"/><rect x="69" y="63" width="2" height="1" fill-opacity="0.20"/><rect x="37" y="49" width="1" height="2" fill-opacity="0.14"/><rect x="16" y="42" width="1" height="1" fill-opacity="0.08"/><rect x="80" y="59" width="1" height="1" fill-opacity="0.25"/><rect x="89" y="52" width="1" height="2" fill-opacity="0.08"/><rect x="74" y="62" width="2" height="1" fill-opacity="0.25"/><rect x="54" y="57" width="2" height="2" fill-opacity="0.25"/><rect x="62" y="59" width="2" height="1" fill-opacity="0.25"/><rect x="58" y="41" width="1" height="1" fill-opacity="0.25"/><rect x="8" y="56" width="1" height="2" fill-opacity="0.08"/><rect x="18" y="47" width="2" height="1" fill-opacity="0.25"/><rect x="9" y="61" width="2" height="2" fill-opacity="0.14"/><rect x="10" y="0" width="2" height="2" fill-opacity="0.20"/><rect x="32" y="66" width="1" height="1" fill-opacity="0.20"/><rect x="63" y="3" width="2" height="1" fill-opacity="0.25"/><rect x="12" y="0" width="1" height="1" fill-opacity="0.14"/><rect x="38" y="68" width="2" height="1" fill-opacity="0.25"/><rect x="10" y="54" width="2" height="1" fill-opacity="0.14"/><rect x="27" y="24" width="1" height="1" fill-opacity="0.25"/><rect x="70" y="2" width="1" height="2" fill-opacity="0.08"/><rect x="8" y="7" width="2" height="1" fill-opacity="0.08"/><rect x="42" y="23" width="1" height="1" fill-opacity="0.20"/><rect x="1" y="61" width="2" height="1" fill-opacity="0.25"/><rect x="30" y="6" width="1" height="2" fill-opacity="0.20"/><rect x="41" y="6" width="1" height="1" fill-opacity="0.25"/><rect x="63" y="39" width="1" height="1" fill-opacity="0.08"/><rect x="0" y="23" width="2" height="1" fill-opacity="0.08"/><rect x="70" y="12" width="2" height="2" fill-opacity="0.20"/><rect x="39" y="22" width="2" height="1" fill-opacity="0.08"/><rect x="72" y="38" width="1" height="1" fill-opacity="0.20"/><rect x="0" y="19" width="1" height="2" fill-opacity="0.14"/><rect x="47" y="29" width="1" height="1" fill-opacity="0.25"/><rect x="42" y="41" width="1" height="2" fill-opacity="0.08"/><rect x="52" y="18" width="2" height="2" fill-opacity="0.14"/><rect x="46" y="44" width="1" height="1" fill-opacity="0.25"/><rect x="28" y="21" width="2" height="2" fill-opacity="0.14"/><rect x="65" y="42" width="1" height="1" fill-opacity="0.25"/><rect x="34" y="58" width="2" height="1" fill-opacity="0.08"/><rect x="85" y="3" width="2" height="1" fill-opacity="0.20"/><rect x="58" y="51" width="2" height="1" fill-opacity="0.14"/><rect x="23" y="46" width="1" height="2" fill-opacity="0.20"/><rect x="19" y="63" width="1" height="1" fill-opacity="0.08"/><rect x="7" y="33" width="1" height="1" fill-opacity="0.25"/><rect x="9" y="25" width="1" height="1" fill-opacity="0.14"/><rect x="4" y="53" width="1" height="1" fill-opacity="0.25"/><rect x="44" y="30" width="2" height="2" fill-opacity="0.08"/><rect x="59" y="52" width="2" height="1" fill-opacity="0.14"/><rect x="21" y="55" width="2" height="2" fill-opacity="0.20"/><rect x="77" y="10" width="2" height="1" fill-opacity="0.14"/><rect x="22" y="51" width="1" height="1" fill-opacity="0.25"/><rect x="64" y="48" width="1" height="2" fill-opacity="0.20"/><rect x="74" y="42" width="1" height="2" fill-opacity="0.08"/><rect x="60" y="58" width="1" height="2" fill-opacity="0.20"/><rect x="53" y="20" width="1" height="1" fill-opacity="0.20"/><rect x="84" y="11" width="1" height="2" fill-opacity="0.20"/><rect x="44" y="46" width="1" height="1" fill-opacity="0.20"/><rect x="85" y="49" width="1" height="2" fill-opacity="0.25"/><rect x="56" y="16" width="2" height="2" fill-opacity="0.08"/><rect x="27" y="67" width="2" height="1" fill-opacity="0.08"/><rect x="21" y="1" width="1" height="2" fill-opacity="0.20"/><rect x="39" y="33" width="1" height="2" fill-opacity="0.08"/><rect x="17" y="9" width="1" height="2" fill-opacity="0.08"/><rect x="56" y="46" width="1" height="1" fill-opacity="0.08"/><rect x="36" y="21" width="1" height="2" fill-opacity="0.25"/><rect x="2" y="22" width="1" height="1" fill-opacity="0.08"/><rect x="68" y="47" width="1" height="1" fill-opacity="0.20"/><rect x="64" y="16" width="1" height="1" fill-opacity="0.14"/><rect x="20" y="18" width="1" height="2" fill-opacity="0.20"/><rect x="11" y="29" width="1" height="1" fill-opacity="0.20"/><rect x="39" y="52" width="1" height="2" fill-opacity="0.25"/><rect x="44" y="2" width="1" height="1" fill-opacity="0.14"/><rect x="38" y="51" width="1" height="1" fill-opacity="0.20"/><rect x="55" y="44" width="2" height="1" fill-opacity="0.08"/><rect x="33" y="56" width="2" height="2" fill-opacity="0.08"/><rect x="81" y="28" width="1" height="1" fill-opacity="0.25"/><rect x="65" y="48" width="1" height="1" fill-opacity="0.14"/><rect x="1" y="69" width="2" height="1" fill-opacity="0.25"/><rect x="33" y="59" width="1" height="1" fill-opacity="0.25"/><rect x="74" y="46" width="2" height="1" fill-opacity="0.14"/><rect x="43" y="54" width="1" height="1" fill-opacity="0.08"/><rect x="21" y="57" width="1" height="1" fill-opacity="0.20"/><rect x="30" y="52" width="1" height="1" fill-opacity="0.08"/><rect x="77" y="12" width="1" height="2" fill-opacity="0.14"/><rect x="53" y="52" width="2" height="2" fill-opacity="0.14"/><rect x="23" y="56" width="1" height="1" fill-opacity="0.25"/><rect x="77" y="26" width="1" height="1" fill-opacity="0.14"/><rect x="81" y="47" width="1" height="1" fill-opacity="0.14"/><rect x="0" y="10" width="1" height="1" fill-opacity="0.08"/><rect x="9" y="57" width="2" height="2" fill-opacity="0.08"/><rect x="77" y="57" width="2" height="1" fill-opacity="0.14"/><rect x="38" y="30" width="1" height="1" fill-opacity="0.25"/><rect x="49" y="55" width="2" height="2" fill-opacity="0.08"/><rect x="61" y="2" width="1" height="2" fill-opacity="0.25"/><rect x="52" y="3" width="2" height="1" fill-opacity="0.08"/><rect x="64" y="66" width="1" height="1" fill-opacity="0.25"/><rect x="47" y="43" width="1" height="1" fill-opacity="0.14"/><rect x="88" y="33" width="2" height="1" fill-opacity="0.20"/><rect x="27" y="39" width="1" height="1" fill-opacity="0.08"/><rect x="3" y="31" width="2" height="2" fill-opacity="0.08"/><rect x="74" y="58" width="2" height="2" fill-opacity="0.14"/><rect x="22" y="45" width="2" height="1" fill-opacity="0.25"/><rect x="8" y="53" width="1" height="1" fill-opacity="0.20"/><rect x="50" y="69" width="1" height="1" fill-opacity="0.14"/><rect x="14" y="61" width="2" height="1" fill-opacity="0.20"/><rect x="34" y="22" width="2" height="1" fill-opacity="0.08"/><rect x="73" y="53" width="1" height="2" fill-opacity="0.08"/><rect x="4" y="55" width="1" height="2" fill-opacity="0.20"/><rect x="34" y="8" width="1" height="1" fill-opacity="0.08"/><rect x="21" y="49" width="2" height="1" fill-opacity="0.08"/><rect x="56" y="0" width="2" height="1" fill-opacity="0.08"/><rect x="52" y="34" width="1" height="1" fill-opacity="0.25"/><rect x="41" y="41" width="2" height="1" fill-opacity="0.25"/><rect x="65" y="8" width="1" height="1" fill-opacity="0.14"/><rect x="31" y="34" width="2" height="1" fill-opacity="0.20"/><rect x="44" y="67" width="1" height="2" fill-opacity="0.20"/><rect x="75" y="52" width="1" height="2" fill-opacity="0.20"/><rect x="25" y="41" width="1" height="1" fill-opacity="0.20"/><rect x="41" y="37" width="1" height="1" fill-opacity="0.25"/><rect x="56" y="56" width="2" height="2" fill-opacity="0.14"/><rect x="85" y="17" width="1" height="1" fill-opacity="0.08"/><rect x="2" y="4" width="1" height="1" fill-opacity="0.14"/><rect x="31" y="38" width="1" height="2" fill-opacity="0.20"/><rect x="76" y="41" width="1" height="1" fill-opacity="0.20"/><rect x="71" y="48" width="1" height="1" fill-opacity="0.20"/><rect x="21" y="42" width="1" height="2" fill-opacity="0.14"/><rect x="23" y="9" width="1" height="1" fill-opacity="0.08"/><rect x="89" y="33" width="1" height="2" fill-opacity="0.08"/><rect x="29" y="16" width="2" height="1" fill-opacity="0.14"/><rect x="18" y="33" width="1" height="1" fill-opacity="0.25"/><rect x="40" y="6" width="1" height="1" fill-opacity="0.08"/><rect x="44" y="20" width="1" height="1" fill-opacity="0.08"/><rect x="18" y="50" width="1" height="2" fill-opacity="0.20"/><rect x="47" y="19" width="1" height="2" fill-opacity="0.20"/><rect x="36" y="39" width="2" height="2" fill-opacity="0.14"/><rect x="19" y="20" width="2" height="1" fill-opacity="0.20"/><rect x="43" y="8" width="2" height="1" fill-opacity="0.14"/><rect x="19" y="33" width="2" height="1" fill-opacity="0.14"/><rect x="83" y="56" width="2" height="1" fill-opacity="0.25"/><rect x="28" y="40" width="1" height="2" fill-opacity="0.25"/><rect x="42" y="15" width="1" height="2" fill-opacity="0.08"/><rect x="28" y="14" width="2" height="2" fill-opacity="0.08"/><rect x="55" y="50" width="2" height="1" fill-opacity="0.08"/><rect x="48" y="41" width="1" height="1" fill-opacity="0.20"/><rect x="66" y="65" width="2" height="1" fill-opacity="0.14"/><rect x="64" y="41" width="1" height="1" fill-opacity="0.20"/><rect x="0" y="61" width="1" height="2" fill-opacity="0.20"/><rect x="5" y="54" width="1" height="1" fill-opacity="0.14"/><rect x="74" y="40" width="2" height="1" fill-opacity="0.20"/><rect x="83" y="18" width="1" height="2" fill-opacity="0.08"/><rect x="63" y="3" width="1" height="2" fill-opacity="0.25"/><rect x="86" y="4" width="1" height="2" fill-opacity="0.25"/><rect x="69" y="64" width="1" height="2" fill-opacity="0.08"/><rect x="9" y="21" width="2" height="1" fill-opacity="0.20"/><rect x="52" y="58" width="2" height="1" fill-opacity="0.08"/><rect x="7" y="5" width="1" height="1" fill-opacity="0.14"/><rect x="22" y="69" width="1" height="1" fill-opacity="0.08"/><rect x="41" y="14" width="1" height="1" fill-opacity="0.20"/><rect x="63" y="67" width="2" height="2" fill-opacity="0.25"/><rect x="47" y="41" width="1" height="1" fill-opacity="0.20"/><rect x="43" y="11" width="1" height="2" fill-opacity="0.25"/><rect x="52" y="25" width="1" height="1" fill-opacity="0.25"/><rect x="70" y="51" width="1" height="2" fill-opacity="0.25"/><rect x="85" y="59" width="2" height="1" fill-opacity="0.25"/><rect x="79" y="13" width="1" height="1" fill-opacity="0.08"/><rect x="47" y="48" width="1" height="1" fill-opacity="0.25"/><rect x="21" y="26" width="1" height="2" fill-opacity="0.14"/><rect x="61" y="45" width="1" height="2" fill-opacity="0.20"/><rect x="14" y="26" width="1" height="2" fill-opacity="0.20"/><rect x="5" y="59" width="1" height="1" fill-opacity="0.25"/><rect x="36" y="55" width="2" height="2" fill-opacity="0.20"/><rect x="69" y="15" width="1" height="2" fill-opacity="0.20"/><rect x="17" y="49" width="1" height="2" fill-opacity="0.08"/><rect x="63" y="12" width="1" height="2" fill-opacity="0.25"/><rect x="18" y="40" width="2" height="1" fill-opacity="0.08"/><rect x="5" y="46" width="1" height="2" fill-opacity="0.25"/><rect x="12" y="66" width="1" height="1" fill-opacity="0.20"/><rect x="15" y="3" width="1" height="2" fill-opacity="0.08"/><rect x="7" y="56" width="2" height="2" fill-opacity="0.08"/><rect x="6" y="41" width="1" height="2" fill-opacity="0.08"/><rect x="53" y="17" width="2" height="2" fill-opacity="0.25"/><rect x="64" y="40" width="2" height="2" fill-opacity="0.14"/><rect x="64" y="23" width="1" height="1" fill-opacity="0.08"/><rect x="6" y="53" width="2" height="1" fill-opacity="0.25"/><rect x="12" y="24" width="2" height="1" fill-opacity="0.20"/><rect x="18" y="37" width="1" height="2" fill-opacity="0.08"/><rect x="19" y="66" width="1" height="1" fill-opacity="0.08"/><rect x="22" y="23" width="1" height="1" fill-opacity="0.08"/><rect x="86" y="39" width="1" height="1" fill-opacity="0.25"/><rect x="72" y="55" width="2" height="1" fill-opacity="0.08"/><rect x="39" y="43" width="1" height="2" fill-opacity="0.14"/><rect x="66" y="7" width="2" height="2" fill-opacity="0.08"/><rect x="57" y="30" width="1" height="2" fill-opacity="0.08"/><rect x="32" y="15" width="2" height="1" fill-opacity="0.25"/><rect x="24" y="30" width="1" height="2" fill-opacity="0.08"/><rect x="78" y="45" width="1" height="2" fill-opacity="0.25"/><rect x="36" y="1" width="2" height="1" fill-opacity="0.25"/><rect x="9" y="1" width="1" height="2" fill-opacity="0.20"/><rect x="50" y="50" width="1" height="1" fill-opacity="0.08"/><rect x="17" y="55" width="2" height="1" fill-opacity="0.14"/><rect x="14" y="38" width="1" height="1" fill-opacity="0.25"/><rect x="4" y="2" width="1" height="2" fill-opacity="0.14"/><rect x="11" y="44" width="1" height="1" fill-opacity="0.14"/><rect x="16" y="69" width="1" height="1" fill-opacity="0.08"/><rect x="41" y="64" width="1" height="2" fill-opacity="0.14"/><rect x="21" y="10" width="1" height="1" fill-opacity="0.08"/><rect x="12" y="62" width="2" height="1" fill-opacity="0.14"/><rect x="71" y="21" width="1" height="1" fill-opacity="0.08"/><rect x="2" y="41" width="2" height="2" fill-opacity="0.14"/><rect x="73" y="52" width="1" height="1" fill-opacity="0.20"/><rect x="6" y="63" width="2" height="1" fill-opacity="0.25"/><rect x="4" y="19" width="1" height="1" fill-opacity="0.08"/><rect x="14" y="4" width="1" height="1" fill-opacity="0.14"/><rect x="33" y="33" width="1" height="1" fill-opacity="0.14"/><rect x="61" y="16" width="1" height="2" fill-opacity="0.14"/><rect x="80" y="26" width="2" height="1" fill-opacity="0.08"/><rect x="62" y="28" width="1" height="2" fill-opacity="0.20"/><rect x="60" y="4" width="2" height="1" fill-opacity="0.20"/><rect x="89" y="39" width="1" height="2" fill-opacity="0.25"/><rect x="35" y="67" width="1" height="2" fill-opacity="0.25"/><rect x="28" y="22" width="2" height="2" fill-opacity="0.14"/><rect x="27" y="57" width="1" height="1" fill-opacity="0.25"/><rect x="83" y="48" width="1" height="1" fill-opacity="0.08"/><rect x="61" y="11" width="1" height="1" fill-opacity="0.14"/><rect x="84" y="39" width="1" height="1" fill-opacity="0.14"/><rect x="42" y="34" width="1" height="1" fill-opacity="0.08"/><rect x="13" y="31" width="1" height="2" fill-opacity="0.20"/><rect x="69" y="8" width="2" height="1" fill-opacity="0.20"/><rect x="63" y="27" width="2" height="1" fill-opacity="0.14"/><rect x="60" y="50" width="1" height="1" fill-opacity="0.14"/><rect x="63" y="43" width="1" height="2" fill-opacity="0.20"/><rect x="26" y="40" width="2" height="1" fill-opacity="0.20"/><rect x="26" y="49" width="1" height="1" fill-opacity="0.08"/><rect x="27" y="27" width="1" height="1" fill-opacity="0.25"/><rect x="53" y="48" width="1" height="2" fill-opacity="0.20"/><rect x="21" y="3" width="1" height="2" fill-opacity="0.25"/><rect x="66" y="3" width="1" height="1" fill-opacity="0.14"/><rect x="67" y="12" width="2" height="2" fill-opacity="0.20"/><rect x="32" y="39" width="2" height="1" fill-opacity="0.20"/><rect x="79" y="40" width="1" height="1" fill-opacity="0.14"/><rect x="43" y="59" width="1" height="1" fill-opacity="0.14"/><rect x="83" y="63" width="2" height="2" fill-opacity="0.20"/><rect x="59" y="14" width="1" height="1" fill-opacity="0.14"/><rect x="64" y="30" width="2" height="1" fill-opacity="0.14"/><rect x="37" y="14" width="1" height="1" fill-opacity="0.25"/><rect x="39" y="31" width="1" height="1" fill-opacity="0.14"/><rect x="84" y="54" width="1" height="1" fill-opacity="0.14"/><rect x="2" y="19" width="2" height="1" fill-opacity="0.25"/><rect x="16" y="6" width="1" height="2" fill-opacity="0.25"/><rect x="2" y="24" width="1" height="1" fill-opacity="0.25"/><rect x="13" y="10" width="2" height="1" fill-opacity="0.25"/><rect x="68" y="37" width="1" height="1" fill-opacity="0.20"/><rect x="22" y="47" width="1" height="1" fill-opacity="0.08"/><rect x="25" y="61" width="2" height="1" fill-opacity="0.20"/><rect x="22" y="53" width="1" height="1" fill-opacity="0.25"/><rect x="84" y="31" width="1" height="1" fill-opacity="0.14"/><rect x="10" y="37" width="1" height="1" fill-opacity="0.20"/><rect x="36" y="14" width="2" height="2" fill-opacity="0.08"/><rect x="13" y="52" width="1" height="2" fill-opacity="0.20"/><rect x="84" y="21" width="1" height="2" fill-opacity="0.20"/><rect x="7" y="30" width="1" height="1" fill-opacity="0.25"/><rect x="20" y="65" width="1" height="1" fill-opacity="0.08"/><rect x="71" y="8" width="1" height="1" fill-opacity="0.20"/><rect x="32" y="55" width="1" height="2" fill-opacity="0.25"/><rect x="25" y="13" width="1" height="1" fill-opacity="0.14"/><rect x="10" y="13" width="1" height="1" fill-opacity="0.14"/><rect x="24" y="7" width="2" height="2" fill-opacity="0.08"/><rect x="30" y="45" width="1" height="2" fill-opacity="0.14"/><rect x="36" y="53" width="1" height="2" fill-opacity="0.25"/><rect x="84" y="0" width="2" height="1" fill-opacity="0.20"/><rect x="38" y="49" width="1" height="1" fill-opacity="0.08"/><rect x="58" y="60" width="1" height="1" fill-opacity="0.14"/><rect x="38" y="9" width="2" height="1" fill-opacity="0.08"/><rect x="53" y="5" width="1" height="1" fill-opacity="0.08"/><rect x="12" y="30" width="1" height="1" fill-opacity="0.08"/><rect x="71" y="55" width="2" height="1" fill-opacity="0.14"/><rect x="24" y="11" width="2" height="2" fill-opacity="0.25"/><rect x="20" y="17" width="1" height="2" fill-opacity="0.14"/><rect x="43" y="63" width="1" height="1" fill-opacity="0.25"/><rect x="73" y="68" width="1" height="1" fill-opacity="0.25"/><rect x="15" y="37" width="1" height="1" fill-opacity="0.25"/><rect x="9" y="13" width="1" height="2" fill-opacity="0.14"/><rect x="85" y="43" width="2" height="2" fill-opacity="0.08"/><rect x="47" y="40" width="1" height="2" fill-opacity="0.08"/><rect x="12" y="34" width="1" height="1" fill-opacity="0.20"/><rect x="8" y="45" width="1" height="2" fill-opacity="0.25"/><rect x="53" y="16" width="2" height="1" fill-opacity="0.14"/><rect x="88" y="34" width="1" height="2" fill-opacity="0.20"/><rect x="86" y="33" width="1" height="1" fill-opacity="0.14"/></g></pattern></defs>


<!-- ===== Top-left terrazza (thin double lines) ===== -->
<g stroke="#1a1a1a" fill="none" stroke-linecap="round">
  <path d="M67.6 62 L58.2 361" stroke-width="4.4"/>
  <path d="M74 68 L65.6 357" stroke-width="4"/>
  <path d="M68 62.4 L207 62.4" stroke-width="3" stroke-dasharray="6 3 3 4 8 3"/>
  <path d="M74 67.6 L207 67.6" stroke-width="4.4"/>
  <path d="M57 357.6 L112 357.6" stroke-width="7" stroke-linecap="butt"/>
</g>

<!-- ===== Thick walls ===== -->
<!-- speckled (lighter) walls: dark outline + grey core -->
<g fill="#222">
  <polygon points="205,60.6 497,59.4 497,78.6 205,79.6"/>
  <polygon points="572,59 652,58.6 652,77.4 572,78.2"/>
  <rect x="205.3" y="60" width="19.7" height="53.5"/>
  <rect x="415.8" y="70" width="14" height="170"/>
  <rect x="628.3" y="59" width="23.9" height="151"/>
</g>
<g fill="#2c2c2c">
  <polygon points="208,63 494.5,62 494.5,76.3 208,77.3"/>
  <polygon points="574.5,61.5 649.5,61.2 649.5,75 574.5,75.6"/>
  <rect x="208" y="74" width="14.2" height="37"/>
  <rect x="418.2" y="76" width="9.4" height="161"/>
  <rect x="630.6" y="74" width="19.2" height="133"/>
</g>
<g fill="url(#speck)">
  <polygon points="208,63 494.5,62 494.5,76.3 208,77.3"/>
  <polygon points="574.5,61.5 649.5,61.2 649.5,75 574.5,75.6"/>
  <rect x="208" y="74" width="14.2" height="37"/>
  <rect x="418.2" y="76" width="9.4" height="161"/>
  <rect x="630.6" y="74" width="19.2" height="133"/>
</g>
<!-- dark walls -->
<g fill="#1c1c1c">
  <rect x="406" y="238" width="23.3" height="17.7"/>
  <polygon points="625.6,209 648.6,209 645.9,547 623.6,547"/>
  <rect x="222" y="239.4" width="140" height="15.2"/>
  <rect x="344" y="239.4" width="18.3" height="41"/>
  <rect x="199" y="342.6" width="20.5" height="20.4"/>
  <rect x="107" y="359.8" width="31.2" height="21"/>
  <rect x="190" y="361.3" width="171" height="19.4"/>
  <rect x="338.5" y="354.2" width="22.8" height="26"/>
  <rect x="345.3" y="378.5" width="13.8" height="24.6"/>
  <rect x="258.7" y="380" width="12.8" height="115"/>
  <rect x="345.4" y="450.8" width="17.4" height="17"/><rect x="345.4" y="460" width="13.8" height="40"/>
  <rect x="227" y="494.8" width="132" height="14.7"/>
  <rect x="124.5" y="493" width="22.5" height="14.6"/>
  <rect x="407" y="293" width="20" height="85.3"/>
  <rect x="426" y="331" width="198.5" height="17"/>
</g>
<!-- medium walls -->
<g fill="#262626">
  <polygon points="106.5,360 127,360 122,792 104.2,792"/>
  <rect x="405.2" y="418.6" width="18.8" height="139.4"/>
  <rect x="400.8" y="451.8" width="7" height="11.2"/>
  <rect x="402" y="547" width="26.5" height="11"/>
  <rect x="420" y="521.5" width="57" height="23.5"/>
  <rect x="554" y="521.5" width="70" height="23.5"/>
  <rect x="402.3" y="627.2" width="22" height="160"/>
  <rect x="104.2" y="773" width="40.2" height="19"/>
  <rect x="239.6" y="773.8" width="183.4" height="18"/>
</g>
<g fill="url(#speck2)">
  <polygon points="106.5,360 127,360 122,792 104.2,792"/>
  <rect x="405.2" y="418.6" width="18.8" height="139.4"/>
  <rect x="400.8" y="451.8" width="7" height="11.2"/>
  <rect x="402" y="547" width="26.5" height="11"/>
  <rect x="420" y="521.5" width="57" height="23.5"/>
  <rect x="554" y="521.5" width="70" height="23.5"/>
  <rect x="402.3" y="627.2" width="22" height="160"/>
  <rect x="104.2" y="773" width="40.2" height="19"/>
  <rect x="239.6" y="773.8" width="183.4" height="18"/>
</g>

<path d="M120.5 421 L120.5 461" stroke="#fff" stroke-width="2" opacity="0.45"/>
<!-- ===== Thin lines / windows ===== -->
<g stroke="#1a1a1a" fill="none" stroke-linecap="round">
  <!-- top wall window -->
  <path d="M497 67.8 L572 67.8" stroke-width="4"/>
  <path d="M497 76 L560 76 M566 76 L572 76" stroke-width="4"/>
  <path d="M497 57.6 L497 88" stroke-width="2.5"/>
  <path d="M571.5 56 L571.5 84" stroke-width="2.5"/>
  <!-- top-right rectangle -->
  <path d="M648 58.8 L679 58.8 M684 58.8 L710 58.8 M716 58.8 L725 58.8 M732 58.8 L754 58.8 M759 58.8 L762 58.8 M770 58.8 L773 58.8 M782 58.8 L813 58.8" stroke-width="3.4"/>
  <path d="M813 58 L813 201" stroke-width="3"/>
  <path d="M809.6 201 L809.6 289" stroke-width="4.4"/>
  <path d="M641 290.2 L809.6 290.2" stroke-width="4.6"/>
  <!-- stair outline -->
  <path d="M646 301.3 L810 301.3" stroke-width="5"/>
  <path d="M810.2 300 L804.2 656" stroke-width="5.5"/>
  <path d="M798 529.5 L818 529.5" stroke-width="4"/>
  <!-- stair steps -->
  <path d="M646 378 L806 378 M646 397.8 L806 397.8 M646 416 L806 416 M646 430.5 L752 430.5 M780 430.5 L802 430.5 M646 445.3 L806 445.3 M646 464.5 L806 464.5 M646 483.4 L806 483.4 M648 502 L806 502 M646 517.4 L806 517.4" stroke-width="4"/>
  <!-- handrails -->
  <path d="M665 351.5 L789 351.5" stroke-width="4"/>
  <path d="M674 556.3 L780 556.3" stroke-width="4"/>
  <path d="M684.5 341 L683.5 569" stroke-width="4"/>
  <path d="M775 341 L774.5 569" stroke-width="4"/>
  <!-- diagonals -->
  <path d="M736 443 L806 401 M736 456 L806 416 M752 464 L775 445 M777 449 L791 463" stroke-width="4"/>
  <path d="M745 468 L800 468" stroke-width="3" stroke="#777"/>
  <!-- camera singola left window -->
  <path d="M199.7 114.3 L230.8 114.3" stroke-width="3"/>
  <path d="M205.2 115 L205.2 198" stroke-width="3.5"/>
  <path d="M221.8 115 L221.8 198" stroke-width="3.5"/>
  <path d="M174 157.2 L241 157.2" stroke-width="3.4"/>
  <path d="M199.7 198.5 L222 198.5" stroke-width="3.2"/>
  <path d="M205.4 199 L205.4 258" stroke-width="5.5"/>
  <path d="M219 199 L219 258" stroke-width="5.5"/>
  <!-- bagno left window -->
  <path d="M196.4 260.2 L225.4 260.2" stroke-width="4"/>
  <path d="M202.4 262 L202.4 343" stroke-width="3.4"/>
  <path d="M210.5 262 L210.5 343" stroke-width="4"/>
  <path d="M219 262 L219 343" stroke-width="4"/>
  <!-- cucinotto top window -->
  <path d="M138 359.5 L190 359.5" stroke-width="5"/>
  <path d="M138 377.5 L190 377.5" stroke-width="5"/>
  <path d="M138.4 353 L138.4 383.6" stroke-width="4"/>
  <path d="M190.4 353 L190.4 383.6" stroke-width="4"/>
  <path d="M167.5 324 L167.5 399" stroke-width="5"/>
  <!-- camera matrimoniale 2 bottom window -->
  <path d="M477 523.5 L498 523.5 M504 523.5 L533 523.5 M539 523.5 L553 523.5" stroke-width="2.5"/>
  <path d="M477 530 L553 530" stroke-width="3.5"/>
  <path d="M477 541.5 L553 541.5" stroke-width="4"/>
  <path d="M477 518 L477 547 M554 518 L554 549" stroke-width="2.5"/>
  <!-- door lines / ingresso -->
  <path d="M635.8 546 L635.8 649 M643.2 546 L643.2 649" stroke-width="3.6"/>
  <path d="M627 633.5 L645 633.5" stroke-width="4"/>
  <path d="M591 587.5 L681 587.5" stroke-width="3.5"/>
  <path d="M426 645.5 L616 645.5" stroke-width="3.5"/>
  <path d="M645 650.5 L826 650.5" stroke-width="3.5"/>
  <path d="M645 661.3 L826 661.3" stroke-width="5"/>
  <path d="M445 642.5 L445 665 M624.6 645 L624.6 672" stroke-width="2"/>
  <!-- soggiorno bottom window -->
  <path d="M144 775.3 L239 775.3" stroke-width="4.5"/>
  <path d="M144 789.3 L239 789.3" stroke-width="5.5"/>
  <path d="M182 752 L181.5 829.6" stroke-width="6"/>
  <path d="M238.8 763 L238.8 803" stroke-width="5"/>
  <!-- lower terrazza -->
  <path d="M108.5 790 L108.5 927" stroke-width="9" stroke-linecap="butt"/>
  <path d="M104 927 L422.5 927" stroke-width="9.5" stroke-linecap="butt"/>
  <path d="M412.6 792 L412.6 927 M420.5 792 L420.5 931" stroke-width="4"/>
</g>
<g fill="#1e1e1e">
  <!-- central stair post -->
  <rect x="718.8" y="368" width="4.2" height="156"/>
  <rect x="731" y="368" width="5.3" height="156"/>
  <rect x="713.7" y="364.8" width="25.6" height="5.2"/>
  <rect x="714" y="521.5" width="24.5" height="6"/>
  <!-- ingresso bottom block -->
  <rect x="622" y="643.7" width="23" height="21.8"/>
</g>
<g fill="#2a2a2a">
  <rect x="426" y="648.8" width="196" height="13.7"/>
  <rect x="426" y="648.8" width="196" height="13.7" fill="url(#speck2)"/>
  <rect x="645" y="652" width="181" height="8" fill="#606060"/>
</g>

<!-- ===== Labels ===== -->
<g>
  <text x="80.7" y="222.77" font-size="32.5" textLength="104.59" lengthAdjust="spacingAndGlyphs">Terrazza</text>
  <text x="268.8" y="145.56" font-size="32.5" textLength="96.0" lengthAdjust="spacingAndGlyphs">Camera</text>
  <text x="274.5" y="178.87" font-size="32.5" textLength="85.18" lengthAdjust="spacingAndGlyphs">singola</text>
  <text x="476.7" y="186.6" font-size="32.5" textLength="95.69" lengthAdjust="spacingAndGlyphs">Camera</text>
  <text x="447.9" y="220.39" font-size="32.5" textLength="154.64" lengthAdjust="spacingAndGlyphs">matrimoniale</text>
  <text x="248.0" y="318.9" font-size="32.5" textLength="78.79" lengthAdjust="spacingAndGlyphs">Bagno</text>
  <text x="474.9" y="423.6" font-size="32.5" textLength="96.5" lengthAdjust="spacingAndGlyphs">Camera</text>
  <text x="446.7" y="457.61" font-size="32.5" textLength="155.04" lengthAdjust="spacingAndGlyphs">matrimoniale</text>
  <text x="134.1" y="457.13" font-size="32.5" textLength="114.04" lengthAdjust="spacingAndGlyphs">Cucinotto</text>
  <text x="457.2" y="606.07" font-size="32.5" textLength="104.18" lengthAdjust="spacingAndGlyphs">Ingresso</text>
  <text x="188.9" y="647.4" font-size="32.5" textLength="122.71" lengthAdjust="spacingAndGlyphs">Soggiorno</text>
  <text x="206.5" y="872.15" font-size="32.5" textLength="105.51" lengthAdjust="spacingAndGlyphs">Terrazza</text>
  <text x="290.3" y="415.47" font-size="27" textLength="36.75" lengthAdjust="spacingAndGlyphs">WC</text>
  <text x="301.6" y="443.29" font-size="27" textLength="12.96" lengthAdjust="spacingAndGlyphs">e</text>
  <text x="277.7" y="470.39" font-size="27" textLength="61.42" lengthAdjust="spacingAndGlyphs">doccia</text>
  <text x="590.4" y="928.7" font-size="48" textLength="213.29" lengthAdjust="spacingAndGlyphs">Primo piano</text>
</g>
</svg>
</body></html>
